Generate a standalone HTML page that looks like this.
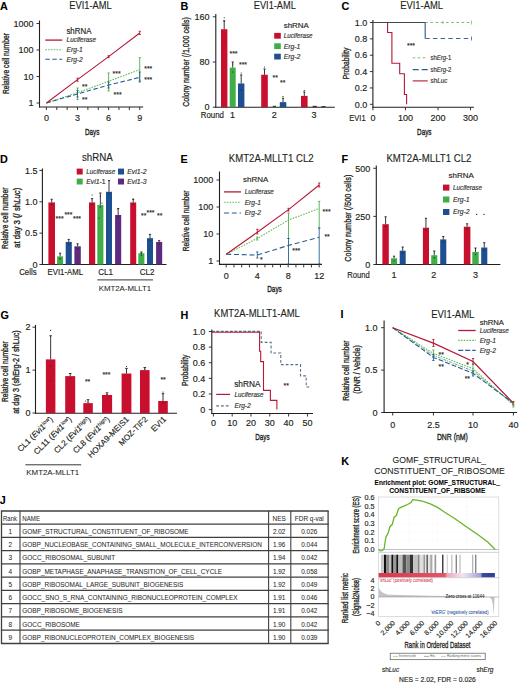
<!DOCTYPE html>
<html><head><meta charset="utf-8"><style>
html,body{margin:0;padding:0;background:#fff;width:520px;height:683px;overflow:hidden}
svg{display:block}
text{font-family:"Liberation Sans",sans-serif}
</style></head><body>
<svg width="520" height="683" viewBox="0 0 520 683">
<rect width="520" height="683" fill="#fff"/>
<text x="0.00" y="10.20" style="font-size:10.8px;fill:#000;font-weight:bold;stroke:#000;stroke-width:0.1px">A</text>
<text x="69.20" y="9.10" textLength="42.50" lengthAdjust="spacingAndGlyphs" style="font-size:10.4px;fill:#231f20;stroke:#231f20;stroke-width:0.12px">EVI1-AML</text>
<line x1="39.50" y1="20.50" x2="39.50" y2="107.55" stroke="#231f20" stroke-width="1.1"/>
<line x1="38.95" y1="107.00" x2="143.20" y2="107.00" stroke="#231f20" stroke-width="1.1"/>
<line x1="36.50" y1="23.50" x2="39.50" y2="23.50" stroke="#231f20" stroke-width="0.9"/>
<text x="33.60" y="26.74" text-anchor="end" style="font-size:9.0px;fill:#231f20;stroke:#231f20;stroke-width:0.16px">1000</text>
<line x1="36.50" y1="50.00" x2="39.50" y2="50.00" stroke="#231f20" stroke-width="0.9"/>
<text x="33.60" y="53.24" text-anchor="end" style="font-size:9.0px;fill:#231f20;stroke:#231f20;stroke-width:0.16px">100</text>
<line x1="36.50" y1="76.50" x2="39.50" y2="76.50" stroke="#231f20" stroke-width="0.9"/>
<text x="33.60" y="79.74" text-anchor="end" style="font-size:9.0px;fill:#231f20;stroke:#231f20;stroke-width:0.16px">10</text>
<line x1="36.50" y1="103.00" x2="39.50" y2="103.00" stroke="#231f20" stroke-width="0.9"/>
<text x="33.60" y="106.24" text-anchor="end" style="font-size:9.0px;fill:#231f20;stroke:#231f20;stroke-width:0.16px">1</text>
<line x1="46.40" y1="107.00" x2="46.40" y2="110.00" stroke="#231f20" stroke-width="0.9"/>
<line x1="56.77" y1="107.00" x2="56.77" y2="110.00" stroke="#231f20" stroke-width="0.9"/>
<line x1="67.14" y1="107.00" x2="67.14" y2="110.00" stroke="#231f20" stroke-width="0.9"/>
<line x1="77.51" y1="107.00" x2="77.51" y2="110.00" stroke="#231f20" stroke-width="0.9"/>
<line x1="87.88" y1="107.00" x2="87.88" y2="110.00" stroke="#231f20" stroke-width="0.9"/>
<line x1="98.25" y1="107.00" x2="98.25" y2="110.00" stroke="#231f20" stroke-width="0.9"/>
<line x1="108.62" y1="107.00" x2="108.62" y2="110.00" stroke="#231f20" stroke-width="0.9"/>
<line x1="118.99" y1="107.00" x2="118.99" y2="110.00" stroke="#231f20" stroke-width="0.9"/>
<line x1="129.36" y1="107.00" x2="129.36" y2="110.00" stroke="#231f20" stroke-width="0.9"/>
<line x1="139.73" y1="107.00" x2="139.73" y2="110.00" stroke="#231f20" stroke-width="0.9"/>
<text x="46.40" y="121.40" text-anchor="middle" style="font-size:9.0px;fill:#231f20;stroke:#231f20;stroke-width:0.16px">0</text>
<text x="77.51" y="121.40" text-anchor="middle" style="font-size:9.0px;fill:#231f20;stroke:#231f20;stroke-width:0.16px">3</text>
<text x="108.62" y="121.40" text-anchor="middle" style="font-size:9.0px;fill:#231f20;stroke:#231f20;stroke-width:0.16px">6</text>
<text x="139.73" y="121.40" text-anchor="middle" style="font-size:9.0px;fill:#231f20;stroke:#231f20;stroke-width:0.16px">9</text>
<text x="92.10" y="135.20" text-anchor="middle" textLength="14.40" lengthAdjust="spacingAndGlyphs" style="font-size:9.9px;fill:#231f20;stroke:#231f20;stroke-width:0.38px">Days</text>
<text transform="translate(8.50,63.60) rotate(-90)" text-anchor="middle" textLength="61.00" lengthAdjust="spacingAndGlyphs" style="font-size:9.9px;fill:#231f20;stroke:#231f20;stroke-width:0.32px">Relative cell number</text>
<polyline points="46.40,103.00 77.51,92.69 108.62,81.28 139.73,69.61" fill="none" stroke="#5fbf4f" stroke-width="1.1" stroke-dasharray="1.6 1.2" stroke-linejoin="miter"/>
<polyline points="46.40,103.00 77.51,93.93 108.62,85.09 139.73,77.34" fill="none" stroke="#2a5d8f" stroke-width="1.1" stroke-dasharray="4.5 2.5" stroke-linejoin="miter"/>
<polyline points="46.40,103.00 77.51,79.66 108.62,56.67 139.73,33.03" fill="none" stroke="#b51838" stroke-width="1.1" stroke-linejoin="miter"/>
<line x1="77.51" y1="78.20" x2="77.51" y2="81.20" stroke="#b51838" stroke-width="0.9"/>
<line x1="76.41" y1="78.20" x2="78.61" y2="78.20" stroke="#b51838" stroke-width="0.9"/>
<line x1="76.41" y1="81.20" x2="78.61" y2="81.20" stroke="#b51838" stroke-width="0.9"/>
<line x1="139.73" y1="31.30" x2="139.73" y2="34.60" stroke="#b51838" stroke-width="0.9"/>
<line x1="138.63" y1="31.30" x2="140.83" y2="31.30" stroke="#b51838" stroke-width="0.9"/>
<line x1="138.63" y1="34.60" x2="140.83" y2="34.60" stroke="#b51838" stroke-width="0.9"/>
<line x1="108.62" y1="55.70" x2="108.62" y2="57.70" stroke="#b51838" stroke-width="0.9"/>
<line x1="107.52" y1="55.70" x2="109.72" y2="55.70" stroke="#b51838" stroke-width="0.9"/>
<line x1="107.52" y1="57.70" x2="109.72" y2="57.70" stroke="#b51838" stroke-width="0.9"/>
<line x1="77.51" y1="88.00" x2="77.51" y2="99.60" stroke="#4caf50" stroke-width="0.9"/>
<line x1="76.41" y1="88.00" x2="78.61" y2="88.00" stroke="#4caf50" stroke-width="0.9"/>
<line x1="76.41" y1="99.60" x2="78.61" y2="99.60" stroke="#4caf50" stroke-width="0.9"/>
<line x1="108.62" y1="73.00" x2="108.62" y2="91.00" stroke="#4caf50" stroke-width="0.9"/>
<line x1="107.52" y1="73.00" x2="109.72" y2="73.00" stroke="#4caf50" stroke-width="0.9"/>
<line x1="107.52" y1="91.00" x2="109.72" y2="91.00" stroke="#4caf50" stroke-width="0.9"/>
<line x1="139.73" y1="57.60" x2="139.73" y2="81.00" stroke="#4caf50" stroke-width="0.9"/>
<line x1="138.63" y1="57.60" x2="140.83" y2="57.60" stroke="#4caf50" stroke-width="0.9"/>
<line x1="138.63" y1="81.00" x2="140.83" y2="81.00" stroke="#4caf50" stroke-width="0.9"/>
<line x1="77.51" y1="90.50" x2="77.51" y2="97.00" stroke="#2a5d8f" stroke-width="0.9"/>
<line x1="76.41" y1="90.50" x2="78.61" y2="90.50" stroke="#2a5d8f" stroke-width="0.9"/>
<line x1="76.41" y1="97.00" x2="78.61" y2="97.00" stroke="#2a5d8f" stroke-width="0.9"/>
<line x1="108.62" y1="82.00" x2="108.62" y2="88.00" stroke="#2a5d8f" stroke-width="0.9"/>
<line x1="107.52" y1="82.00" x2="109.72" y2="82.00" stroke="#2a5d8f" stroke-width="0.9"/>
<line x1="107.52" y1="88.00" x2="109.72" y2="88.00" stroke="#2a5d8f" stroke-width="0.9"/>
<line x1="139.73" y1="72.00" x2="139.73" y2="82.00" stroke="#2a5d8f" stroke-width="0.9"/>
<line x1="138.63" y1="72.00" x2="140.83" y2="72.00" stroke="#2a5d8f" stroke-width="0.9"/>
<line x1="138.63" y1="82.00" x2="140.83" y2="82.00" stroke="#2a5d8f" stroke-width="0.9"/>
<text x="82.00" y="88.90" style="font-size:6.8px;fill:#222;stroke:#222;stroke-width:0.12px">**</text>
<text x="82.00" y="102.30" style="font-size:6.8px;fill:#222;stroke:#222;stroke-width:0.12px">**</text>
<text x="112.60" y="76.20" style="font-size:6.8px;fill:#222;stroke:#222;stroke-width:0.12px">***</text>
<text x="113.60" y="96.50" style="font-size:6.8px;fill:#222;stroke:#222;stroke-width:0.12px">***</text>
<text x="144.30" y="71.10" style="font-size:6.8px;fill:#222;stroke:#222;stroke-width:0.12px">***</text>
<text x="144.30" y="82.00" style="font-size:6.8px;fill:#222;stroke:#222;stroke-width:0.12px">***</text>
<text x="66.40" y="34.20" textLength="25.00" lengthAdjust="spacingAndGlyphs" style="font-size:8.3px;fill:#231f20;stroke:#231f20;stroke-width:0.16px">shRNA</text>
<line x1="45.30" y1="40.10" x2="62.30" y2="40.10" stroke="#b51838" stroke-width="1.3"/>
<text x="66.60" y="42.40" textLength="29.50" lengthAdjust="spacingAndGlyphs" style="font-size:6.6px;fill:#333;font-style:italic;stroke:#333;stroke-width:0.16px">Luciferase</text>
<line x1="45.30" y1="49.70" x2="62.30" y2="49.70" stroke="#5fbf4f" stroke-width="1.1" stroke-dasharray="1.6 1.2"/>
<text x="66.60" y="52.00" style="font-size:6.6px;fill:#333;font-style:italic;stroke:#333;stroke-width:0.16px">Erg-1</text>
<line x1="45.30" y1="59.20" x2="62.30" y2="59.20" stroke="#2a5d8f" stroke-width="1.1" stroke-dasharray="4.5 2.5"/>
<text x="66.60" y="61.50" style="font-size:6.6px;fill:#333;font-style:italic;stroke:#333;stroke-width:0.16px">Erg-2</text>
<text x="180.50" y="10.40" style="font-size:10.8px;fill:#000;font-weight:bold;stroke:#000;stroke-width:0.1px">B</text>
<text x="253.80" y="9.10" textLength="42.00" lengthAdjust="spacingAndGlyphs" style="font-size:10.4px;fill:#231f20;stroke:#231f20;stroke-width:0.12px">EVI1-AML</text>
<line x1="215.80" y1="14.00" x2="215.80" y2="107.75" stroke="#231f20" stroke-width="1.1"/>
<line x1="215.25" y1="107.20" x2="334.80" y2="107.20" stroke="#231f20" stroke-width="1.1"/>
<line x1="212.80" y1="107.20" x2="215.80" y2="107.20" stroke="#231f20" stroke-width="0.9"/>
<text x="209.50" y="110.44" text-anchor="end" style="font-size:9.0px;fill:#231f20;stroke:#231f20;stroke-width:0.16px">0</text>
<line x1="212.80" y1="62.00" x2="215.80" y2="62.00" stroke="#231f20" stroke-width="0.9"/>
<text x="209.50" y="65.24" text-anchor="end" style="font-size:9.0px;fill:#231f20;stroke:#231f20;stroke-width:0.16px">80</text>
<line x1="212.80" y1="16.80" x2="215.80" y2="16.80" stroke="#231f20" stroke-width="0.9"/>
<text x="209.50" y="20.04" text-anchor="end" style="font-size:9.0px;fill:#231f20;stroke:#231f20;stroke-width:0.16px">160</text>
<text transform="translate(189.20,62.00) rotate(-90)" text-anchor="middle" textLength="89.50" lengthAdjust="spacingAndGlyphs" style="font-size:9.9px;fill:#231f20;stroke:#231f20;stroke-width:0.32px">Colony number (/1,000 cells)</text>
<text x="200.80" y="118.00" textLength="23.20" lengthAdjust="spacingAndGlyphs" style="font-size:8.8px;fill:#231f20;stroke:#231f20;stroke-width:0.16px">Round</text>
<text x="232.60" y="118.10" text-anchor="middle" style="font-size:9.0px;fill:#231f20;stroke:#231f20;stroke-width:0.16px">1</text>
<text x="274.20" y="118.10" text-anchor="middle" style="font-size:9.0px;fill:#231f20;stroke:#231f20;stroke-width:0.16px">2</text>
<text x="314.00" y="118.10" text-anchor="middle" style="font-size:9.0px;fill:#231f20;stroke:#231f20;stroke-width:0.16px">3</text>
<rect x="221.00" y="29.23" width="6.40" height="77.97" fill="#c8102e"/>
<line x1="224.20" y1="20.75" x2="224.20" y2="29.23" stroke="#231f20" stroke-width="0.9"/>
<line x1="223.10" y1="20.75" x2="225.30" y2="20.75" stroke="#231f20" stroke-width="0.9"/>
<rect x="229.70" y="67.65" width="6.00" height="39.55" fill="#3fae49"/>
<line x1="232.70" y1="62.00" x2="232.70" y2="67.65" stroke="#231f20" stroke-width="0.9"/>
<line x1="231.60" y1="62.00" x2="233.80" y2="62.00" stroke="#231f20" stroke-width="0.9"/>
<rect x="238.00" y="83.47" width="6.40" height="23.73" fill="#1d4f91"/>
<line x1="241.20" y1="75.00" x2="241.20" y2="83.47" stroke="#231f20" stroke-width="0.9"/>
<line x1="240.10" y1="75.00" x2="242.30" y2="75.00" stroke="#231f20" stroke-width="0.9"/>
<rect x="261.20" y="74.71" width="6.60" height="32.49" fill="#c8102e"/>
<line x1="264.50" y1="69.06" x2="264.50" y2="74.71" stroke="#231f20" stroke-width="0.9"/>
<line x1="263.40" y1="69.06" x2="265.60" y2="69.06" stroke="#231f20" stroke-width="0.9"/>
<rect x="272.80" y="105.73" width="3.20" height="1.47" fill="#2d5a2d"/>
<rect x="279.80" y="102.12" width="6.50" height="5.08" fill="#1d4f91"/>
<line x1="283.05" y1="98.16" x2="283.05" y2="102.12" stroke="#231f20" stroke-width="0.9"/>
<line x1="281.95" y1="98.16" x2="284.15" y2="98.16" stroke="#231f20" stroke-width="0.9"/>
<rect x="301.00" y="95.90" width="6.60" height="11.30" fill="#c8102e"/>
<line x1="304.30" y1="91.95" x2="304.30" y2="95.90" stroke="#231f20" stroke-width="0.9"/>
<line x1="303.20" y1="91.95" x2="305.40" y2="91.95" stroke="#231f20" stroke-width="0.9"/>
<rect x="312.60" y="105.84" width="4.20" height="1.36" fill="#333"/>
<rect x="321.50" y="106.07" width="4.00" height="1.13" fill="#333"/>
<circle cx="224.20" cy="17.80" r="0.6" fill="#231f20"/>
<circle cx="224.20" cy="21.50" r="0.6" fill="#231f20"/>
<circle cx="232.70" cy="64.00" r="0.6" fill="#231f20"/>
<circle cx="241.20" cy="73.00" r="0.6" fill="#231f20"/>
<circle cx="264.50" cy="67.00" r="0.6" fill="#231f20"/>
<circle cx="283.00" cy="96.50" r="0.6" fill="#231f20"/>
<circle cx="304.30" cy="90.50" r="0.6" fill="#231f20"/>
<circle cx="224.20" cy="40.00" r="0.6" fill="#231f20"/>
<circle cx="232.70" cy="72.00" r="0.6" fill="#231f20"/>
<circle cx="241.20" cy="90.00" r="0.6" fill="#231f20"/>
<text x="229.50" y="55.50" style="font-size:6.8px;fill:#222;stroke:#222;stroke-width:0.12px">***</text>
<text x="239.00" y="66.90" style="font-size:6.8px;fill:#222;stroke:#222;stroke-width:0.12px">***</text>
<text x="272.50" y="80.10" style="font-size:6.8px;fill:#222;stroke:#222;stroke-width:0.12px">**</text>
<text x="280.00" y="84.90" style="font-size:6.8px;fill:#222;stroke:#222;stroke-width:0.12px">**</text>
<text x="283.70" y="27.90" textLength="25.10" lengthAdjust="spacingAndGlyphs" style="font-size:8px;fill:#231f20;stroke:#231f20;stroke-width:0.16px">shRNA</text>
<rect x="274.20" y="32.90" width="6.60" height="5.80" fill="#c8102e"/>
<text x="283.70" y="38.20" textLength="28.90" lengthAdjust="spacingAndGlyphs" style="font-size:6.8px;fill:#333;font-style:italic;stroke:#333;stroke-width:0.16px">Luciferase</text>
<rect x="274.20" y="43.30" width="6.60" height="5.80" fill="#3fae49"/>
<text x="283.70" y="48.60" style="font-size:6.8px;fill:#333;font-style:italic;stroke:#333;stroke-width:0.16px">Erg-1</text>
<rect x="274.20" y="53.70" width="6.60" height="5.80" fill="#1d4f91"/>
<text x="283.70" y="59.00" style="font-size:6.8px;fill:#333;font-style:italic;stroke:#333;stroke-width:0.16px">Erg-2</text>
<text x="341.50" y="10.20" style="font-size:10.8px;fill:#000;font-weight:bold;stroke:#000;stroke-width:0.1px">C</text>
<text x="400.20" y="9.10" textLength="42.80" lengthAdjust="spacingAndGlyphs" style="font-size:10.4px;fill:#231f20;stroke:#231f20;stroke-width:0.12px">EVI1-AML</text>
<line x1="372.90" y1="20.00" x2="372.90" y2="107.85" stroke="#231f20" stroke-width="1.1"/>
<line x1="372.35" y1="107.30" x2="473.90" y2="107.30" stroke="#231f20" stroke-width="1.1"/>
<line x1="369.90" y1="104.30" x2="372.90" y2="104.30" stroke="#231f20" stroke-width="0.9"/>
<text x="367.30" y="107.54" text-anchor="end" style="font-size:9.0px;fill:#231f20;stroke:#231f20;stroke-width:0.16px">0.0</text>
<line x1="369.90" y1="87.94" x2="372.90" y2="87.94" stroke="#231f20" stroke-width="0.9"/>
<text x="367.30" y="91.18" text-anchor="end" style="font-size:9.0px;fill:#231f20;stroke:#231f20;stroke-width:0.16px">0.2</text>
<line x1="369.90" y1="71.58" x2="372.90" y2="71.58" stroke="#231f20" stroke-width="0.9"/>
<text x="367.30" y="74.82" text-anchor="end" style="font-size:9.0px;fill:#231f20;stroke:#231f20;stroke-width:0.16px">0.4</text>
<line x1="369.90" y1="55.22" x2="372.90" y2="55.22" stroke="#231f20" stroke-width="0.9"/>
<text x="367.30" y="58.46" text-anchor="end" style="font-size:9.0px;fill:#231f20;stroke:#231f20;stroke-width:0.16px">0.6</text>
<line x1="369.90" y1="38.86" x2="372.90" y2="38.86" stroke="#231f20" stroke-width="0.9"/>
<text x="367.30" y="42.10" text-anchor="end" style="font-size:9.0px;fill:#231f20;stroke:#231f20;stroke-width:0.16px">0.8</text>
<line x1="369.90" y1="22.50" x2="372.90" y2="22.50" stroke="#231f20" stroke-width="0.9"/>
<text x="367.30" y="25.74" text-anchor="end" style="font-size:9.0px;fill:#231f20;stroke:#231f20;stroke-width:0.16px">1.0</text>
<line x1="372.90" y1="107.30" x2="372.90" y2="110.30" stroke="#231f20" stroke-width="0.9"/>
<line x1="405.45" y1="107.30" x2="405.45" y2="110.30" stroke="#231f20" stroke-width="0.9"/>
<line x1="438.00" y1="107.30" x2="438.00" y2="110.30" stroke="#231f20" stroke-width="0.9"/>
<line x1="470.55" y1="107.30" x2="470.55" y2="110.30" stroke="#231f20" stroke-width="0.9"/>
<text x="372.90" y="121.20" text-anchor="middle" style="font-size:9.0px;fill:#231f20;stroke:#231f20;stroke-width:0.16px">0</text>
<text x="405.45" y="121.20" text-anchor="middle" style="font-size:9.0px;fill:#231f20;stroke:#231f20;stroke-width:0.16px">100</text>
<text x="438.00" y="121.20" text-anchor="middle" style="font-size:9.0px;fill:#231f20;stroke:#231f20;stroke-width:0.16px">200</text>
<text x="470.55" y="121.20" text-anchor="middle" style="font-size:9.0px;fill:#231f20;stroke:#231f20;stroke-width:0.16px">300</text>
<text x="349.30" y="121.20" textLength="16.30" lengthAdjust="spacingAndGlyphs" style="font-size:9px;fill:#231f20;stroke:#231f20;stroke-width:0.16px">EVI1</text>
<text x="424.30" y="135.10" text-anchor="middle" textLength="14.40" lengthAdjust="spacingAndGlyphs" style="font-size:9.9px;fill:#231f20;stroke:#231f20;stroke-width:0.38px">Days</text>
<text transform="translate(348.80,63.50) rotate(-90)" text-anchor="middle" textLength="31.70" lengthAdjust="spacingAndGlyphs" style="font-size:9.9px;fill:#231f20;stroke:#231f20;stroke-width:0.32px">Probability</text>
<line x1="425.20" y1="22.50" x2="472.00" y2="22.50" stroke="#78c06e" stroke-width="1" stroke-dasharray="2.6 2.6"/>
<line x1="425.20" y1="22.50" x2="425.20" y2="38.50" stroke="#42648f" stroke-width="1.2"/>
<line x1="425.20" y1="38.50" x2="472.00" y2="38.50" stroke="#42648f" stroke-width="1.2" stroke-dasharray="4.5 3.2"/>
<line x1="471.50" y1="20.50" x2="471.50" y2="24.50" stroke="#78c06e" stroke-width="0.8"/>
<line x1="471.50" y1="36.50" x2="471.50" y2="40.50" stroke="#42648f" stroke-width="0.8"/>
<polyline points="372.90,22.50 387.60,22.50 387.60,32.50 391.90,32.50 391.90,63.30 399.70,63.30 399.70,73.70 404.40,73.70 404.40,94.50 406.60,94.50 406.60,104.30" fill="none" stroke="#b51838" stroke-width="1.1" stroke-linejoin="miter"/>
<line x1="372.90" y1="22.50" x2="425.20" y2="22.50" stroke="#3c4a44" stroke-width="1.1"/>
<line x1="443.00" y1="20.80" x2="443.00" y2="24.20" stroke="#78c06e" stroke-width="0.8"/>
<text x="407.00" y="48.30" style="font-size:6.8px;fill:#222;stroke:#222;stroke-width:0.12px">***</text>
<line x1="412.70" y1="57.80" x2="427.70" y2="57.80" stroke="#78c06e" stroke-width="1" stroke-dasharray="2.5 2.5"/>
<line x1="412.70" y1="69.60" x2="427.70" y2="69.60" stroke="#2a5d8f" stroke-width="1.2" stroke-dasharray="6 3"/>
<line x1="412.70" y1="80.90" x2="427.70" y2="80.90" stroke="#b51838" stroke-width="1.1"/>
<text x="430.50" y="60.00" textLength="20.80" lengthAdjust="spacingAndGlyphs" style="font-size:6.6px;fill:#333;stroke:#333;stroke-width:0.16px">sh<tspan style="font-style:italic">Erg</tspan>-1</text>
<text x="430.50" y="71.80" textLength="20.80" lengthAdjust="spacingAndGlyphs" style="font-size:6.6px;fill:#333;stroke:#333;stroke-width:0.16px">sh<tspan style="font-style:italic">Erg</tspan>-2</text>
<text x="430.50" y="83.10" textLength="16.80" lengthAdjust="spacingAndGlyphs" style="font-size:6.6px;fill:#333;stroke:#333;stroke-width:0.16px">sh<tspan style="font-style:italic">Luc</tspan></text>
<text x="0.00" y="162.80" style="font-size:10.8px;fill:#000;font-weight:bold;stroke:#000;stroke-width:0.1px">D</text>
<text x="81.90" y="161.20" textLength="30.80" lengthAdjust="spacingAndGlyphs" style="font-size:10.8px;fill:#231f20;stroke:#231f20;stroke-width:0.12px">shRNA</text>
<line x1="42.40" y1="168.50" x2="42.40" y2="265.05" stroke="#231f20" stroke-width="1.1"/>
<line x1="41.85" y1="264.50" x2="166.50" y2="264.50" stroke="#231f20" stroke-width="1.1"/>
<line x1="39.40" y1="264.50" x2="42.40" y2="264.50" stroke="#231f20" stroke-width="0.9"/>
<text x="37.60" y="267.74" text-anchor="end" style="font-size:9.0px;fill:#231f20;stroke:#231f20;stroke-width:0.16px">0</text>
<line x1="39.40" y1="233.15" x2="42.40" y2="233.15" stroke="#231f20" stroke-width="0.9"/>
<text x="37.60" y="236.39" text-anchor="end" style="font-size:9.0px;fill:#231f20;stroke:#231f20;stroke-width:0.16px">0.5</text>
<line x1="39.40" y1="201.80" x2="42.40" y2="201.80" stroke="#231f20" stroke-width="0.9"/>
<text x="37.60" y="205.04" text-anchor="end" style="font-size:9.0px;fill:#231f20;stroke:#231f20;stroke-width:0.16px">1.0</text>
<line x1="39.40" y1="170.45" x2="42.40" y2="170.45" stroke="#231f20" stroke-width="0.9"/>
<text x="37.60" y="173.69" text-anchor="end" style="font-size:9.0px;fill:#231f20;stroke:#231f20;stroke-width:0.16px">1.5</text>
<text transform="translate(8.00,218.30) rotate(-90)" text-anchor="middle" textLength="61.40" lengthAdjust="spacingAndGlyphs" style="font-size:8.5px;fill:#231f20;stroke:#231f20;stroke-width:0.32px">Relative cell number</text>
<text transform="translate(19.60,217.80) rotate(-90)" text-anchor="middle" textLength="60.30" lengthAdjust="spacingAndGlyphs" style="font-size:8.5px;fill:#231f20;stroke:#231f20;stroke-width:0.32px">at day 3 (/ sh<tspan style="font-style:italic">Luc</tspan>)</text>
<rect x="48.40" y="202.43" width="6.60" height="62.07" fill="#c8102e"/>
<line x1="51.70" y1="199.29" x2="51.70" y2="202.43" stroke="#231f20" stroke-width="0.9"/>
<line x1="50.60" y1="199.29" x2="52.80" y2="199.29" stroke="#231f20" stroke-width="0.9"/>
<circle cx="51.70" cy="204.43" r="0.6" fill="#231f20"/>
<rect x="57.10" y="256.35" width="6.00" height="8.15" fill="#3fae49"/>
<line x1="60.10" y1="253.21" x2="60.10" y2="256.35" stroke="#231f20" stroke-width="0.9"/>
<line x1="59.00" y1="253.21" x2="61.20" y2="253.21" stroke="#231f20" stroke-width="0.9"/>
<circle cx="60.10" cy="258.35" r="0.6" fill="#231f20"/>
<rect x="65.70" y="241.93" width="6.10" height="22.57" fill="#1d4f91"/>
<line x1="68.75" y1="239.42" x2="68.75" y2="241.93" stroke="#231f20" stroke-width="0.9"/>
<line x1="67.65" y1="239.42" x2="69.85" y2="239.42" stroke="#231f20" stroke-width="0.9"/>
<circle cx="68.75" cy="243.93" r="0.6" fill="#231f20"/>
<rect x="74.40" y="246.32" width="6.40" height="18.18" fill="#5e2a7e"/>
<line x1="77.60" y1="243.81" x2="77.60" y2="246.32" stroke="#231f20" stroke-width="0.9"/>
<line x1="76.50" y1="243.81" x2="78.70" y2="243.81" stroke="#231f20" stroke-width="0.9"/>
<circle cx="77.60" cy="248.32" r="0.6" fill="#231f20"/>
<rect x="89.00" y="202.43" width="6.20" height="62.07" fill="#c8102e"/>
<line x1="92.10" y1="198.66" x2="92.10" y2="202.43" stroke="#231f20" stroke-width="0.9"/>
<line x1="91.00" y1="198.66" x2="93.20" y2="198.66" stroke="#231f20" stroke-width="0.9"/>
<circle cx="92.10" cy="204.43" r="0.6" fill="#231f20"/>
<rect x="97.30" y="204.94" width="6.10" height="59.56" fill="#3fae49"/>
<line x1="100.35" y1="193.02" x2="100.35" y2="204.94" stroke="#231f20" stroke-width="0.9"/>
<line x1="99.25" y1="193.02" x2="101.45" y2="193.02" stroke="#231f20" stroke-width="0.9"/>
<circle cx="100.35" cy="206.94" r="0.6" fill="#231f20"/>
<rect x="106.00" y="191.77" width="6.00" height="72.73" fill="#1d4f91"/>
<line x1="109.00" y1="180.48" x2="109.00" y2="191.77" stroke="#231f20" stroke-width="0.9"/>
<line x1="107.90" y1="180.48" x2="110.10" y2="180.48" stroke="#231f20" stroke-width="0.9"/>
<circle cx="109.00" cy="193.77" r="0.6" fill="#231f20"/>
<rect x="115.10" y="214.97" width="6.10" height="49.53" fill="#5e2a7e"/>
<line x1="118.15" y1="208.70" x2="118.15" y2="214.97" stroke="#231f20" stroke-width="0.9"/>
<line x1="117.05" y1="208.70" x2="119.25" y2="208.70" stroke="#231f20" stroke-width="0.9"/>
<circle cx="118.15" cy="216.97" r="0.6" fill="#231f20"/>
<rect x="130.20" y="202.43" width="6.00" height="62.07" fill="#c8102e"/>
<line x1="133.20" y1="199.29" x2="133.20" y2="202.43" stroke="#231f20" stroke-width="0.9"/>
<line x1="132.10" y1="199.29" x2="134.30" y2="199.29" stroke="#231f20" stroke-width="0.9"/>
<circle cx="133.20" cy="204.43" r="0.6" fill="#231f20"/>
<rect x="138.30" y="253.21" width="6.10" height="11.29" fill="#3fae49"/>
<line x1="141.35" y1="251.96" x2="141.35" y2="253.21" stroke="#231f20" stroke-width="0.9"/>
<line x1="140.25" y1="251.96" x2="142.45" y2="251.96" stroke="#231f20" stroke-width="0.9"/>
<circle cx="141.35" cy="255.21" r="0.6" fill="#231f20"/>
<rect x="147.00" y="238.17" width="6.00" height="26.33" fill="#1d4f91"/>
<line x1="150.00" y1="234.40" x2="150.00" y2="238.17" stroke="#231f20" stroke-width="0.9"/>
<line x1="148.90" y1="234.40" x2="151.10" y2="234.40" stroke="#231f20" stroke-width="0.9"/>
<circle cx="150.00" cy="240.17" r="0.6" fill="#231f20"/>
<rect x="156.10" y="241.93" width="6.10" height="22.57" fill="#5e2a7e"/>
<line x1="159.15" y1="240.67" x2="159.15" y2="241.93" stroke="#231f20" stroke-width="0.9"/>
<line x1="158.05" y1="240.67" x2="160.25" y2="240.67" stroke="#231f20" stroke-width="0.9"/>
<circle cx="159.15" cy="243.93" r="0.6" fill="#231f20"/>
<circle cx="92.10" cy="195.00" r="0.6" fill="#231f20"/>
<circle cx="100.30" cy="196.00" r="0.6" fill="#231f20"/>
<circle cx="102.00" cy="203.00" r="0.6" fill="#231f20"/>
<circle cx="99.00" cy="218.00" r="0.6" fill="#231f20"/>
<circle cx="118.10" cy="208.50" r="0.6" fill="#231f20"/>
<circle cx="133.20" cy="199.00" r="0.6" fill="#231f20"/>
<circle cx="141.30" cy="253.50" r="0.6" fill="#231f20"/>
<circle cx="60.10" cy="259.00" r="0.6" fill="#231f20"/>
<text x="55.60" y="221.30" style="font-size:6.8px;fill:#222;stroke:#222;stroke-width:0.12px">***</text>
<text x="64.40" y="217.00" style="font-size:6.8px;fill:#222;stroke:#222;stroke-width:0.12px">***</text>
<text x="73.00" y="221.30" style="font-size:6.8px;fill:#222;stroke:#222;stroke-width:0.12px">***</text>
<text x="141.00" y="217.70" style="font-size:6.8px;fill:#222;stroke:#222;stroke-width:0.12px">**</text>
<text x="146.50" y="215.30" style="font-size:6.8px;fill:#222;stroke:#222;stroke-width:0.12px">***</text>
<text x="157.00" y="217.70" style="font-size:6.8px;fill:#222;stroke:#222;stroke-width:0.12px">**</text>
<rect x="76.70" y="168.60" width="6.00" height="5.90" fill="#c8102e"/>
<rect x="76.70" y="178.60" width="6.00" height="5.90" fill="#3fae49"/>
<rect x="118.00" y="168.60" width="6.00" height="5.90" fill="#1d4f91"/>
<rect x="118.00" y="178.60" width="6.00" height="5.90" fill="#5e2a7e"/>
<text x="86.30" y="174.10" textLength="28.90" lengthAdjust="spacingAndGlyphs" style="font-size:6.8px;fill:#333;font-style:italic;stroke:#333;stroke-width:0.16px">Luciferase</text>
<text x="86.30" y="184.10" style="font-size:6.8px;fill:#333;stroke:#333;stroke-width:0.16px"><tspan style="font-style:italic">Evi1</tspan>-1</text>
<text x="127.30" y="174.10" style="font-size:6.8px;fill:#333;stroke:#333;stroke-width:0.16px"><tspan style="font-style:italic">Evi1-2</tspan></text>
<text x="127.30" y="184.10" style="font-size:6.8px;fill:#333;stroke:#333;stroke-width:0.16px"><tspan style="font-style:italic">Evi1-3</tspan></text>
<text x="19.20" y="274.90" textLength="17.50" lengthAdjust="spacingAndGlyphs" style="font-size:8.6px;fill:#231f20;stroke:#231f20;stroke-width:0.16px">Cells</text>
<text x="47.60" y="274.90" textLength="35.40" lengthAdjust="spacingAndGlyphs" style="font-size:8.8px;fill:#231f20;stroke:#231f20;stroke-width:0.16px">EVI1-AML</text>
<text x="98.20" y="274.90" textLength="14.70" lengthAdjust="spacingAndGlyphs" style="font-size:8.8px;fill:#231f20;stroke:#231f20;stroke-width:0.16px">CL1</text>
<text x="139.70" y="274.90" textLength="14.70" lengthAdjust="spacingAndGlyphs" style="font-size:8.8px;fill:#231f20;stroke:#231f20;stroke-width:0.16px">CL2</text>
<line x1="97.30" y1="279.90" x2="153.00" y2="279.90" stroke="#231f20" stroke-width="0.9"/>
<text x="98.70" y="290.80" textLength="52.50" lengthAdjust="spacingAndGlyphs" style="font-size:8px;fill:#231f20;stroke:#231f20;stroke-width:0.05px">KMT2A-MLLT1</text>
<text x="180.50" y="163.00" style="font-size:10.8px;fill:#000;font-weight:bold;stroke:#000;stroke-width:0.1px">E</text>
<text x="228.80" y="161.80" textLength="84.90" lengthAdjust="spacingAndGlyphs" style="font-size:10.4px;fill:#231f20;stroke:#231f20;stroke-width:0.12px">KMT2A-MLLT1 CL2</text>
<line x1="219.50" y1="171.50" x2="219.50" y2="264.95" stroke="#231f20" stroke-width="1.1"/>
<line x1="218.95" y1="264.40" x2="322.00" y2="264.40" stroke="#231f20" stroke-width="1.1"/>
<line x1="216.50" y1="180.00" x2="219.50" y2="180.00" stroke="#231f20" stroke-width="0.9"/>
<text x="213.30" y="183.24" text-anchor="end" style="font-size:9.0px;fill:#231f20;stroke:#231f20;stroke-width:0.16px">1000</text>
<line x1="216.50" y1="207.00" x2="219.50" y2="207.00" stroke="#231f20" stroke-width="0.9"/>
<text x="213.30" y="210.24" text-anchor="end" style="font-size:9.0px;fill:#231f20;stroke:#231f20;stroke-width:0.16px">100</text>
<line x1="216.50" y1="234.00" x2="219.50" y2="234.00" stroke="#231f20" stroke-width="0.9"/>
<text x="213.30" y="237.24" text-anchor="end" style="font-size:9.0px;fill:#231f20;stroke:#231f20;stroke-width:0.16px">10</text>
<line x1="216.50" y1="261.00" x2="219.50" y2="261.00" stroke="#231f20" stroke-width="0.9"/>
<text x="213.30" y="264.24" text-anchor="end" style="font-size:9.0px;fill:#231f20;stroke:#231f20;stroke-width:0.16px">1</text>
<line x1="226.20" y1="264.40" x2="226.20" y2="267.40" stroke="#231f20" stroke-width="0.9"/>
<line x1="233.95" y1="264.40" x2="233.95" y2="267.40" stroke="#231f20" stroke-width="0.9"/>
<line x1="241.70" y1="264.40" x2="241.70" y2="267.40" stroke="#231f20" stroke-width="0.9"/>
<line x1="249.45" y1="264.40" x2="249.45" y2="267.40" stroke="#231f20" stroke-width="0.9"/>
<line x1="257.20" y1="264.40" x2="257.20" y2="267.40" stroke="#231f20" stroke-width="0.9"/>
<line x1="264.95" y1="264.40" x2="264.95" y2="267.40" stroke="#231f20" stroke-width="0.9"/>
<line x1="272.70" y1="264.40" x2="272.70" y2="267.40" stroke="#231f20" stroke-width="0.9"/>
<line x1="280.45" y1="264.40" x2="280.45" y2="267.40" stroke="#231f20" stroke-width="0.9"/>
<line x1="288.20" y1="264.40" x2="288.20" y2="267.40" stroke="#231f20" stroke-width="0.9"/>
<line x1="295.95" y1="264.40" x2="295.95" y2="267.40" stroke="#231f20" stroke-width="0.9"/>
<line x1="303.70" y1="264.40" x2="303.70" y2="267.40" stroke="#231f20" stroke-width="0.9"/>
<line x1="311.45" y1="264.40" x2="311.45" y2="267.40" stroke="#231f20" stroke-width="0.9"/>
<line x1="319.20" y1="264.40" x2="319.20" y2="267.40" stroke="#231f20" stroke-width="0.9"/>
<text x="226.20" y="278.80" text-anchor="middle" style="font-size:9.0px;fill:#231f20;stroke:#231f20;stroke-width:0.16px">0</text>
<text x="257.20" y="278.80" text-anchor="middle" style="font-size:9.0px;fill:#231f20;stroke:#231f20;stroke-width:0.16px">4</text>
<text x="288.20" y="278.80" text-anchor="middle" style="font-size:9.0px;fill:#231f20;stroke:#231f20;stroke-width:0.16px">8</text>
<text x="319.20" y="278.80" text-anchor="middle" style="font-size:9.0px;fill:#231f20;stroke:#231f20;stroke-width:0.16px">12</text>
<text x="274.50" y="292.20" text-anchor="middle" textLength="14.50" lengthAdjust="spacingAndGlyphs" style="font-size:9.9px;fill:#231f20;stroke:#231f20;stroke-width:0.38px">Days</text>
<text transform="translate(188.80,220.90) rotate(-90)" text-anchor="middle" textLength="60.80" lengthAdjust="spacingAndGlyphs" style="font-size:9.9px;fill:#231f20;stroke:#231f20;stroke-width:0.32px">Relative cell number</text>
<polyline points="226.20,254.20 257.30,238.50 288.50,220.00 319.20,208.50" fill="none" stroke="#5fbf4f" stroke-width="1.1" stroke-dasharray="1.6 1.2" stroke-linejoin="miter"/>
<polyline points="226.20,254.20 257.30,255.10 288.50,245.40 319.20,237.30" fill="none" stroke="#2a5d8f" stroke-width="1.1" stroke-dasharray="5 2.8" stroke-linejoin="miter"/>
<polyline points="226.20,254.20 257.30,232.30 288.50,209.60 319.20,185.00" fill="none" stroke="#b51838" stroke-width="1.1" stroke-linejoin="miter"/>
<line x1="257.30" y1="229.30" x2="257.30" y2="233.90" stroke="#b51838" stroke-width="0.9"/>
<line x1="256.20" y1="229.30" x2="258.40" y2="229.30" stroke="#b51838" stroke-width="0.9"/>
<line x1="256.20" y1="233.90" x2="258.40" y2="233.90" stroke="#b51838" stroke-width="0.9"/>
<line x1="288.50" y1="208.30" x2="288.50" y2="211.00" stroke="#b51838" stroke-width="0.9"/>
<line x1="287.40" y1="208.30" x2="289.60" y2="208.30" stroke="#b51838" stroke-width="0.9"/>
<line x1="287.40" y1="211.00" x2="289.60" y2="211.00" stroke="#b51838" stroke-width="0.9"/>
<line x1="319.20" y1="183.00" x2="319.20" y2="187.00" stroke="#b51838" stroke-width="0.9"/>
<line x1="318.10" y1="183.00" x2="320.30" y2="183.00" stroke="#b51838" stroke-width="0.9"/>
<line x1="318.10" y1="187.00" x2="320.30" y2="187.00" stroke="#b51838" stroke-width="0.9"/>
<line x1="288.50" y1="213.00" x2="288.50" y2="238.50" stroke="#4caf50" stroke-width="0.9"/>
<line x1="287.40" y1="213.00" x2="289.60" y2="213.00" stroke="#4caf50" stroke-width="0.9"/>
<line x1="287.40" y1="238.50" x2="289.60" y2="238.50" stroke="#4caf50" stroke-width="0.9"/>
<line x1="319.20" y1="201.40" x2="319.20" y2="228.00" stroke="#4caf50" stroke-width="0.9"/>
<line x1="318.10" y1="201.40" x2="320.30" y2="201.40" stroke="#4caf50" stroke-width="0.9"/>
<line x1="318.10" y1="228.00" x2="320.30" y2="228.00" stroke="#4caf50" stroke-width="0.9"/>
<line x1="257.30" y1="237.00" x2="257.30" y2="240.00" stroke="#4caf50" stroke-width="0.9"/>
<line x1="256.20" y1="237.00" x2="258.40" y2="237.00" stroke="#4caf50" stroke-width="0.9"/>
<line x1="256.20" y1="240.00" x2="258.40" y2="240.00" stroke="#4caf50" stroke-width="0.9"/>
<line x1="288.50" y1="238.50" x2="288.50" y2="264.00" stroke="#2a5d8f" stroke-width="0.9"/>
<line x1="287.40" y1="238.50" x2="289.60" y2="238.50" stroke="#2a5d8f" stroke-width="0.9"/>
<line x1="287.40" y1="264.00" x2="289.60" y2="264.00" stroke="#2a5d8f" stroke-width="0.9"/>
<line x1="319.20" y1="228.00" x2="319.20" y2="264.00" stroke="#2a5d8f" stroke-width="0.9"/>
<line x1="318.10" y1="228.00" x2="320.30" y2="228.00" stroke="#2a5d8f" stroke-width="0.9"/>
<line x1="318.10" y1="264.00" x2="320.30" y2="264.00" stroke="#2a5d8f" stroke-width="0.9"/>
<line x1="257.30" y1="251.90" x2="257.30" y2="258.00" stroke="#2a5d8f" stroke-width="0.9"/>
<line x1="256.20" y1="251.90" x2="258.40" y2="251.90" stroke="#2a5d8f" stroke-width="0.9"/>
<line x1="256.20" y1="258.00" x2="258.40" y2="258.00" stroke="#2a5d8f" stroke-width="0.9"/>
<text x="322.60" y="213.90" style="font-size:6.8px;fill:#222;stroke:#222;stroke-width:0.12px">***</text>
<text x="324.40" y="238.60" style="font-size:6.8px;fill:#222;stroke:#222;stroke-width:0.12px">**</text>
<text x="292.30" y="252.50" style="font-size:6.8px;fill:#222;stroke:#222;stroke-width:0.12px">***</text>
<text x="260.00" y="261.60" style="font-size:6.8px;fill:#222;stroke:#222;stroke-width:0.12px">*</text>
<text x="243.00" y="182.40" textLength="25.20" lengthAdjust="spacingAndGlyphs" style="font-size:8px;fill:#231f20;stroke:#231f20;stroke-width:0.16px">shRNA</text>
<line x1="224.00" y1="191.90" x2="241.00" y2="191.90" stroke="#b51838" stroke-width="1.3"/>
<text x="244.70" y="194.20" textLength="29.20" lengthAdjust="spacingAndGlyphs" style="font-size:6.6px;fill:#333;font-style:italic;stroke:#333;stroke-width:0.16px">Luciferase</text>
<line x1="224.00" y1="202.30" x2="241.00" y2="202.30" stroke="#5fbf4f" stroke-width="1.1" stroke-dasharray="1.6 1.2"/>
<text x="244.70" y="204.60" style="font-size:6.6px;fill:#333;font-style:italic;stroke:#333;stroke-width:0.16px">Erg-1</text>
<line x1="224.00" y1="213.00" x2="241.00" y2="213.00" stroke="#2a5d8f" stroke-width="1.1" stroke-dasharray="5 2.8"/>
<text x="244.70" y="215.30" style="font-size:6.6px;fill:#333;font-style:italic;stroke:#333;stroke-width:0.16px">Erg-2</text>
<text x="341.50" y="162.50" style="font-size:10.8px;fill:#000;font-weight:bold;stroke:#000;stroke-width:0.1px">F</text>
<text x="386.40" y="161.80" textLength="85.10" lengthAdjust="spacingAndGlyphs" style="font-size:10.4px;fill:#231f20;stroke:#231f20;stroke-width:0.12px">KMT2A-MLLT1 CL2</text>
<line x1="376.30" y1="165.50" x2="376.30" y2="265.05" stroke="#231f20" stroke-width="1.1"/>
<line x1="375.75" y1="264.50" x2="500.40" y2="264.50" stroke="#231f20" stroke-width="1.1"/>
<line x1="373.30" y1="264.50" x2="376.30" y2="264.50" stroke="#231f20" stroke-width="0.9"/>
<text x="370.20" y="267.74" text-anchor="end" style="font-size:9.0px;fill:#231f20;stroke:#231f20;stroke-width:0.16px">0</text>
<line x1="373.30" y1="216.40" x2="376.30" y2="216.40" stroke="#231f20" stroke-width="0.9"/>
<text x="370.20" y="219.64" text-anchor="end" style="font-size:9.0px;fill:#231f20;stroke:#231f20;stroke-width:0.16px">250</text>
<line x1="373.30" y1="168.30" x2="376.30" y2="168.30" stroke="#231f20" stroke-width="0.9"/>
<text x="370.20" y="171.54" text-anchor="end" style="font-size:9.0px;fill:#231f20;stroke:#231f20;stroke-width:0.16px">500</text>
<text transform="translate(350.50,218.20) rotate(-90)" text-anchor="middle" textLength="87.20" lengthAdjust="spacingAndGlyphs" style="font-size:9.9px;fill:#231f20;stroke:#231f20;stroke-width:0.32px">Colony number (/500 cells)</text>
<text x="347.30" y="278.30" textLength="22.50" lengthAdjust="spacingAndGlyphs" style="font-size:8.8px;fill:#231f20;stroke:#231f20;stroke-width:0.16px">Round</text>
<text x="394.00" y="278.40" text-anchor="middle" style="font-size:9.0px;fill:#231f20;stroke:#231f20;stroke-width:0.16px">1</text>
<text x="433.80" y="278.40" text-anchor="middle" style="font-size:9.0px;fill:#231f20;stroke:#231f20;stroke-width:0.16px">2</text>
<text x="475.40" y="278.40" text-anchor="middle" style="font-size:9.0px;fill:#231f20;stroke:#231f20;stroke-width:0.16px">3</text>
<rect x="382.40" y="224.20" width="6.40" height="40.30" fill="#c8102e"/>
<line x1="385.60" y1="216.80" x2="385.60" y2="224.20" stroke="#231f20" stroke-width="0.9"/>
<line x1="384.50" y1="216.80" x2="386.70" y2="216.80" stroke="#231f20" stroke-width="0.9"/>
<circle cx="385.60" cy="226.70" r="0.6" fill="#231f20"/>
<rect x="391.00" y="258.30" width="6.10" height="6.20" fill="#3fae49"/>
<line x1="394.05" y1="256.20" x2="394.05" y2="258.30" stroke="#231f20" stroke-width="0.9"/>
<line x1="392.95" y1="256.20" x2="395.15" y2="256.20" stroke="#231f20" stroke-width="0.9"/>
<circle cx="394.05" cy="260.80" r="0.6" fill="#231f20"/>
<rect x="399.70" y="250.70" width="6.00" height="13.80" fill="#1d4f91"/>
<line x1="402.70" y1="247.00" x2="402.70" y2="250.70" stroke="#231f20" stroke-width="0.9"/>
<line x1="401.60" y1="247.00" x2="403.80" y2="247.00" stroke="#231f20" stroke-width="0.9"/>
<circle cx="402.70" cy="253.20" r="0.6" fill="#231f20"/>
<rect x="422.90" y="227.70" width="6.10" height="36.80" fill="#c8102e"/>
<line x1="425.95" y1="218.30" x2="425.95" y2="227.70" stroke="#231f20" stroke-width="0.9"/>
<line x1="424.85" y1="218.30" x2="427.05" y2="218.30" stroke="#231f20" stroke-width="0.9"/>
<circle cx="425.95" cy="230.20" r="0.6" fill="#231f20"/>
<rect x="431.20" y="255.20" width="6.10" height="9.30" fill="#3fae49"/>
<line x1="434.25" y1="251.00" x2="434.25" y2="255.20" stroke="#231f20" stroke-width="0.9"/>
<line x1="433.15" y1="251.00" x2="435.35" y2="251.00" stroke="#231f20" stroke-width="0.9"/>
<circle cx="434.25" cy="257.70" r="0.6" fill="#231f20"/>
<rect x="440.20" y="239.40" width="6.10" height="25.10" fill="#1d4f91"/>
<line x1="443.25" y1="236.50" x2="443.25" y2="239.40" stroke="#231f20" stroke-width="0.9"/>
<line x1="442.15" y1="236.50" x2="444.35" y2="236.50" stroke="#231f20" stroke-width="0.9"/>
<circle cx="443.25" cy="241.90" r="0.6" fill="#231f20"/>
<rect x="463.80" y="226.70" width="6.60" height="37.80" fill="#c8102e"/>
<line x1="467.10" y1="223.80" x2="467.10" y2="226.70" stroke="#231f20" stroke-width="0.9"/>
<line x1="466.00" y1="223.80" x2="468.20" y2="223.80" stroke="#231f20" stroke-width="0.9"/>
<circle cx="467.10" cy="229.20" r="0.6" fill="#231f20"/>
<rect x="472.30" y="251.90" width="6.40" height="12.60" fill="#3fae49"/>
<line x1="475.50" y1="248.00" x2="475.50" y2="251.90" stroke="#231f20" stroke-width="0.9"/>
<line x1="474.40" y1="248.00" x2="476.60" y2="248.00" stroke="#231f20" stroke-width="0.9"/>
<circle cx="475.50" cy="254.40" r="0.6" fill="#231f20"/>
<rect x="481.20" y="247.50" width="6.10" height="17.00" fill="#1d4f91"/>
<line x1="484.25" y1="242.70" x2="484.25" y2="247.50" stroke="#231f20" stroke-width="0.9"/>
<line x1="483.15" y1="242.70" x2="485.35" y2="242.70" stroke="#231f20" stroke-width="0.9"/>
<circle cx="484.25" cy="250.00" r="0.6" fill="#231f20"/>
<text x="448.50" y="177.70" textLength="25.30" lengthAdjust="spacingAndGlyphs" style="font-size:8.1px;fill:#231f20;stroke:#231f20;stroke-width:0.16px">shRNA</text>
<rect x="443.00" y="184.60" width="6.40" height="6.00" fill="#c8102e"/>
<text x="453.00" y="190.00" textLength="29.00" lengthAdjust="spacingAndGlyphs" style="font-size:6.8px;fill:#333;font-style:italic;stroke:#333;stroke-width:0.16px">Luciferase</text>
<rect x="443.00" y="196.50" width="6.40" height="6.00" fill="#3fae49"/>
<text x="453.00" y="201.90" style="font-size:6.8px;fill:#333;font-style:italic;stroke:#333;stroke-width:0.16px">Erg-1</text>
<rect x="443.00" y="209.00" width="6.40" height="6.00" fill="#1d4f91"/>
<text x="453.00" y="214.40" style="font-size:6.8px;fill:#333;font-style:italic;stroke:#333;stroke-width:0.16px">Erg-2</text>
<circle cx="476.70" cy="214.40" r="0.65" fill="#231f20"/>
<circle cx="484.00" cy="214.40" r="0.65" fill="#231f20"/>
<text x="0.50" y="318.70" style="font-size:10.8px;fill:#000;font-weight:bold;stroke:#000;stroke-width:0.1px">G</text>
<line x1="35.50" y1="325.00" x2="35.50" y2="413.75" stroke="#231f20" stroke-width="1.1"/>
<line x1="34.95" y1="413.20" x2="177.00" y2="413.20" stroke="#231f20" stroke-width="1.1"/>
<line x1="32.50" y1="413.00" x2="35.50" y2="413.00" stroke="#231f20" stroke-width="0.9"/>
<text x="30.40" y="416.24" text-anchor="end" style="font-size:9.0px;fill:#231f20;stroke:#231f20;stroke-width:0.16px">0</text>
<line x1="32.50" y1="370.10" x2="35.50" y2="370.10" stroke="#231f20" stroke-width="0.9"/>
<text x="30.40" y="373.34" text-anchor="end" style="font-size:9.0px;fill:#231f20;stroke:#231f20;stroke-width:0.16px">1</text>
<line x1="32.50" y1="327.20" x2="35.50" y2="327.20" stroke="#231f20" stroke-width="0.9"/>
<text x="30.40" y="330.44" text-anchor="end" style="font-size:9.0px;fill:#231f20;stroke:#231f20;stroke-width:0.16px">2</text>
<text transform="translate(8.40,371.60) rotate(-90)" text-anchor="middle" textLength="60.80" lengthAdjust="spacingAndGlyphs" style="font-size:8.8px;fill:#231f20;stroke:#231f20;stroke-width:0.32px">Relative cell number</text>
<text transform="translate(19.40,372.00) rotate(-90)" text-anchor="middle" textLength="83.50" lengthAdjust="spacingAndGlyphs" style="font-size:8.8px;fill:#231f20;stroke:#231f20;stroke-width:0.32px">at day 3 (shErg-2 / shLuc)</text>
<rect x="45.90" y="359.38" width="9.50" height="53.82" fill="#c8102e"/>
<line x1="50.65" y1="335.78" x2="50.65" y2="359.38" stroke="#231f20" stroke-width="0.9"/>
<line x1="49.35" y1="335.78" x2="51.95" y2="335.78" stroke="#231f20" stroke-width="0.9"/>
<rect x="65.20" y="376.11" width="10.00" height="37.09" fill="#c8102e"/>
<line x1="70.20" y1="373.53" x2="70.20" y2="376.11" stroke="#231f20" stroke-width="0.9"/>
<line x1="68.90" y1="373.53" x2="71.50" y2="373.53" stroke="#231f20" stroke-width="0.9"/>
<rect x="83.30" y="403.13" width="9.50" height="10.07" fill="#c8102e"/>
<line x1="88.05" y1="399.70" x2="88.05" y2="403.13" stroke="#231f20" stroke-width="0.9"/>
<line x1="86.75" y1="399.70" x2="89.35" y2="399.70" stroke="#231f20" stroke-width="0.9"/>
<rect x="102.00" y="394.98" width="10.10" height="18.22" fill="#c8102e"/>
<line x1="107.05" y1="392.84" x2="107.05" y2="394.98" stroke="#231f20" stroke-width="0.9"/>
<line x1="105.75" y1="392.84" x2="108.35" y2="392.84" stroke="#231f20" stroke-width="0.9"/>
<rect x="121.60" y="373.53" width="9.80" height="39.67" fill="#c8102e"/>
<line x1="126.50" y1="368.38" x2="126.50" y2="373.53" stroke="#231f20" stroke-width="0.9"/>
<line x1="125.20" y1="368.38" x2="127.80" y2="368.38" stroke="#231f20" stroke-width="0.9"/>
<rect x="140.00" y="370.10" width="9.60" height="43.10" fill="#c8102e"/>
<line x1="144.80" y1="367.53" x2="144.80" y2="370.10" stroke="#231f20" stroke-width="0.9"/>
<line x1="143.50" y1="367.53" x2="146.10" y2="367.53" stroke="#231f20" stroke-width="0.9"/>
<rect x="158.20" y="400.99" width="9.60" height="12.21" fill="#c8102e"/>
<line x1="163.00" y1="393.69" x2="163.00" y2="400.99" stroke="#231f20" stroke-width="0.9"/>
<line x1="161.70" y1="393.69" x2="164.30" y2="393.69" stroke="#231f20" stroke-width="0.9"/>
<circle cx="50.60" cy="330.30" r="0.6" fill="#231f20"/>
<circle cx="50.60" cy="366.00" r="0.6" fill="#231f20"/>
<circle cx="50.60" cy="381.00" r="0.6" fill="#231f20"/>
<circle cx="70.20" cy="378.00" r="0.6" fill="#231f20"/>
<circle cx="88.00" cy="402.00" r="0.6" fill="#231f20"/>
<circle cx="85.50" cy="401.00" r="0.6" fill="#231f20"/>
<circle cx="107.00" cy="394.50" r="0.6" fill="#231f20"/>
<circle cx="126.50" cy="366.50" r="0.6" fill="#231f20"/>
<circle cx="144.80" cy="369.00" r="0.6" fill="#231f20"/>
<circle cx="163.00" cy="392.00" r="0.6" fill="#231f20"/>
<circle cx="163.00" cy="403.00" r="0.6" fill="#231f20"/>
<text x="87.60" y="383.70" text-anchor="middle" style="font-size:6.8px;fill:#222;stroke:#222;stroke-width:0.12px">**</text>
<text x="106.40" y="377.40" text-anchor="middle" style="font-size:6.8px;fill:#222;stroke:#222;stroke-width:0.12px">***</text>
<text x="163.10" y="382.30" text-anchor="middle" style="font-size:6.8px;fill:#222;stroke:#222;stroke-width:0.12px">**</text>
<text transform="translate(53.30,419.80) rotate(-45)" text-anchor="end" style="font-size:8.1px;fill:#231f20;stroke:#231f20;stroke-width:0.16px">CL1 (<tspan style="font-style:italic">Evi1</tspan><tspan dy="-2.6" style="font-size:5.2px">low</tspan><tspan dy="2.6">)</tspan></text>
<text transform="translate(72.20,419.80) rotate(-45)" text-anchor="end" style="font-size:8.1px;fill:#231f20;stroke:#231f20;stroke-width:0.16px">CL11 (<tspan style="font-style:italic">Evi1</tspan><tspan dy="-2.6" style="font-size:5.2px">low</tspan><tspan dy="2.6">)</tspan></text>
<text transform="translate(91.20,419.80) rotate(-45)" text-anchor="end" style="font-size:8.1px;fill:#231f20;stroke:#231f20;stroke-width:0.16px">CL2 (<tspan style="font-style:italic">Evi1</tspan><tspan dy="-2.6" style="font-size:5.2px">high</tspan><tspan dy="2.6">)</tspan></text>
<text transform="translate(110.20,419.80) rotate(-45)" text-anchor="end" style="font-size:8.1px;fill:#231f20;stroke:#231f20;stroke-width:0.16px">CL8 (<tspan style="font-style:italic">Evi1</tspan><tspan dy="-2.6" style="font-size:5.2px">high</tspan><tspan dy="2.6">)</tspan></text>
<text transform="translate(129.50,419.80) rotate(-45)" text-anchor="end" style="font-size:8.1px;fill:#231f20;stroke:#231f20;stroke-width:0.16px">HOXA9-MEIS1</text>
<text transform="translate(148.30,419.80) rotate(-45)" text-anchor="end" style="font-size:8.1px;fill:#231f20;stroke:#231f20;stroke-width:0.16px">MOZ-TIF2</text>
<text transform="translate(166.60,419.80) rotate(-45)" text-anchor="end" style="font-size:8.1px;fill:#231f20;stroke:#231f20;stroke-width:0.16px">EVI1</text>
<line x1="25.40" y1="464.80" x2="81.20" y2="464.80" stroke="#231f20" stroke-width="0.9"/>
<text x="26.30" y="475.40" textLength="52.90" lengthAdjust="spacingAndGlyphs" style="font-size:8px;fill:#231f20;stroke:#231f20;stroke-width:0.05px">KMT2A-MLLT1</text>
<text x="180.50" y="318.70" style="font-size:10.8px;fill:#000;font-weight:bold;stroke:#000;stroke-width:0.1px">H</text>
<text x="214.10" y="317.30" textLength="85.70" lengthAdjust="spacingAndGlyphs" style="font-size:10.4px;fill:#231f20;stroke:#231f20;stroke-width:0.12px">KMT2A-MLLT1-AML</text>
<line x1="211.80" y1="329.50" x2="211.80" y2="414.05" stroke="#231f20" stroke-width="1.1"/>
<line x1="211.25" y1="413.50" x2="313.00" y2="413.50" stroke="#231f20" stroke-width="1.1"/>
<line x1="208.80" y1="409.60" x2="211.80" y2="409.60" stroke="#231f20" stroke-width="0.9"/>
<text x="205.20" y="412.84" text-anchor="end" style="font-size:9.0px;fill:#231f20;stroke:#231f20;stroke-width:0.16px">0</text>
<line x1="208.80" y1="393.98" x2="211.80" y2="393.98" stroke="#231f20" stroke-width="0.9"/>
<text x="205.20" y="397.22" text-anchor="end" style="font-size:9.0px;fill:#231f20;stroke:#231f20;stroke-width:0.16px">0.2</text>
<line x1="208.80" y1="378.36" x2="211.80" y2="378.36" stroke="#231f20" stroke-width="0.9"/>
<text x="205.20" y="381.60" text-anchor="end" style="font-size:9.0px;fill:#231f20;stroke:#231f20;stroke-width:0.16px">0.4</text>
<line x1="208.80" y1="362.74" x2="211.80" y2="362.74" stroke="#231f20" stroke-width="0.9"/>
<text x="205.20" y="365.98" text-anchor="end" style="font-size:9.0px;fill:#231f20;stroke:#231f20;stroke-width:0.16px">0.6</text>
<line x1="208.80" y1="347.12" x2="211.80" y2="347.12" stroke="#231f20" stroke-width="0.9"/>
<text x="205.20" y="350.36" text-anchor="end" style="font-size:9.0px;fill:#231f20;stroke:#231f20;stroke-width:0.16px">0.8</text>
<line x1="208.80" y1="331.50" x2="211.80" y2="331.50" stroke="#231f20" stroke-width="0.9"/>
<text x="205.20" y="334.74" text-anchor="end" style="font-size:9.0px;fill:#231f20;stroke:#231f20;stroke-width:0.16px">1.0</text>
<line x1="213.40" y1="413.50" x2="213.40" y2="416.50" stroke="#231f20" stroke-width="0.9"/>
<line x1="232.20" y1="413.50" x2="232.20" y2="416.50" stroke="#231f20" stroke-width="0.9"/>
<line x1="251.00" y1="413.50" x2="251.00" y2="416.50" stroke="#231f20" stroke-width="0.9"/>
<line x1="269.80" y1="413.50" x2="269.80" y2="416.50" stroke="#231f20" stroke-width="0.9"/>
<line x1="288.60" y1="413.50" x2="288.60" y2="416.50" stroke="#231f20" stroke-width="0.9"/>
<line x1="307.40" y1="413.50" x2="307.40" y2="416.50" stroke="#231f20" stroke-width="0.9"/>
<text x="213.40" y="426.40" text-anchor="middle" style="font-size:9.0px;fill:#231f20;stroke:#231f20;stroke-width:0.16px">0</text>
<text x="232.20" y="426.40" text-anchor="middle" style="font-size:9.0px;fill:#231f20;stroke:#231f20;stroke-width:0.16px">10</text>
<text x="251.00" y="426.40" text-anchor="middle" style="font-size:9.0px;fill:#231f20;stroke:#231f20;stroke-width:0.16px">20</text>
<text x="269.80" y="426.40" text-anchor="middle" style="font-size:9.0px;fill:#231f20;stroke:#231f20;stroke-width:0.16px">30</text>
<text x="288.60" y="426.40" text-anchor="middle" style="font-size:9.0px;fill:#231f20;stroke:#231f20;stroke-width:0.16px">40</text>
<text x="307.40" y="426.40" text-anchor="middle" style="font-size:9.0px;fill:#231f20;stroke:#231f20;stroke-width:0.16px">50</text>
<text x="262.40" y="440.40" text-anchor="middle" textLength="14.30" lengthAdjust="spacingAndGlyphs" style="font-size:9.9px;fill:#231f20;stroke:#231f20;stroke-width:0.38px">Days</text>
<text transform="translate(188.00,370.30) rotate(-90)" text-anchor="middle" textLength="31.60" lengthAdjust="spacingAndGlyphs" style="font-size:9.9px;fill:#231f20;stroke:#231f20;stroke-width:0.32px">Probability</text>
<polyline points="211.80,332.20 259.60,332.20 259.60,351.20 260.70,351.20 260.70,361.60 263.50,361.60 263.50,390.40 270.40,390.40 270.40,400.40 276.90,400.40 276.90,409.60" fill="none" stroke="#b51838" stroke-width="1.1" stroke-linejoin="miter"/>
<line x1="211.80" y1="331.30" x2="261.20" y2="331.30" stroke="#3d4450" stroke-width="1" stroke-dasharray="3 1.5"/>
<polyline points="261.20,331.50 261.20,342.40 271.10,342.40 271.10,353.00 280.80,353.00 280.80,364.60 300.50,364.60 300.50,375.90 306.20,375.90 306.20,387.00 310.90,387.00" fill="none" stroke="#5a6f8c" stroke-width="1.1" stroke-dasharray="2.8 2" stroke-linejoin="miter"/>
<text x="234.20" y="387.10" textLength="26.30" lengthAdjust="spacingAndGlyphs" style="font-size:8.4px;fill:#231f20;stroke:#231f20;stroke-width:0.16px">shRNA</text>
<line x1="216.20" y1="394.40" x2="230.00" y2="394.40" stroke="#b51838" stroke-width="1.2"/>
<text x="234.60" y="396.70" textLength="28.90" lengthAdjust="spacingAndGlyphs" style="font-size:6.6px;fill:#333;font-style:italic;stroke:#333;stroke-width:0.16px">Luciferase</text>
<line x1="216.20" y1="405.90" x2="230.00" y2="405.90" stroke="#5a6f8c" stroke-width="1.1" stroke-dasharray="2.8 2"/>
<text x="234.60" y="408.20" style="font-size:6.6px;fill:#333;font-style:italic;stroke:#333;stroke-width:0.16px">Erg-2</text>
<text x="283.60" y="387.70" style="font-size:6.8px;fill:#222;stroke:#222;stroke-width:0.12px">**</text>
<text x="340.60" y="318.20" style="font-size:10.8px;fill:#000;font-weight:bold;stroke:#000;stroke-width:0.1px">I</text>
<text x="431.20" y="317.70" textLength="43.10" lengthAdjust="spacingAndGlyphs" style="font-size:10.4px;fill:#231f20;stroke:#231f20;stroke-width:0.12px">EVI1-AML</text>
<line x1="384.10" y1="320.40" x2="384.10" y2="413.05" stroke="#231f20" stroke-width="1.1"/>
<line x1="383.55" y1="412.50" x2="517.00" y2="412.50" stroke="#231f20" stroke-width="1.1"/>
<line x1="381.10" y1="412.50" x2="384.10" y2="412.50" stroke="#231f20" stroke-width="0.9"/>
<text x="377.60" y="415.74" text-anchor="end" style="font-size:9.0px;fill:#231f20;stroke:#231f20;stroke-width:0.16px">0</text>
<line x1="381.10" y1="370.10" x2="384.10" y2="370.10" stroke="#231f20" stroke-width="0.9"/>
<text x="377.60" y="373.34" text-anchor="end" style="font-size:9.0px;fill:#231f20;stroke:#231f20;stroke-width:0.16px">0.5</text>
<line x1="381.10" y1="327.70" x2="384.10" y2="327.70" stroke="#231f20" stroke-width="0.9"/>
<text x="377.60" y="330.94" text-anchor="end" style="font-size:9.0px;fill:#231f20;stroke:#231f20;stroke-width:0.16px">1.0</text>
<line x1="392.70" y1="412.50" x2="392.70" y2="415.50" stroke="#231f20" stroke-width="0.9"/>
<line x1="433.40" y1="412.50" x2="433.40" y2="415.50" stroke="#231f20" stroke-width="0.9"/>
<line x1="473.00" y1="412.50" x2="473.00" y2="415.50" stroke="#231f20" stroke-width="0.9"/>
<line x1="513.40" y1="412.50" x2="513.40" y2="415.50" stroke="#231f20" stroke-width="0.9"/>
<text x="392.70" y="428.30" text-anchor="middle" style="font-size:9.0px;fill:#231f20;stroke:#231f20;stroke-width:0.16px">0</text>
<text x="433.40" y="428.30" text-anchor="middle" style="font-size:9.0px;fill:#231f20;stroke:#231f20;stroke-width:0.16px">2.5</text>
<text x="473.00" y="428.30" text-anchor="middle" style="font-size:9.0px;fill:#231f20;stroke:#231f20;stroke-width:0.16px">10</text>
<text x="513.40" y="428.30" text-anchor="middle" style="font-size:9.0px;fill:#231f20;stroke:#231f20;stroke-width:0.16px">40</text>
<text x="452.40" y="440.40" text-anchor="middle" textLength="31.00" lengthAdjust="spacingAndGlyphs" style="font-size:9.9px;fill:#231f20;stroke:#231f20;stroke-width:0.38px">DNR (nM)</text>
<text transform="translate(349.00,370.70) rotate(-90)" text-anchor="middle" textLength="60.30" lengthAdjust="spacingAndGlyphs" style="font-size:8.7px;fill:#231f20;stroke:#231f20;stroke-width:0.32px">Relative cell number</text>
<text transform="translate(359.80,369.50) rotate(-90)" text-anchor="middle" textLength="48.60" lengthAdjust="spacingAndGlyphs" style="font-size:8.7px;fill:#231f20;stroke:#231f20;stroke-width:0.32px">(DNR / Vehicle)</text>
<polyline points="392.70,327.70 433.40,353.40 473.00,368.70 513.40,405.00" fill="none" stroke="#5fbf4f" stroke-width="1.1" stroke-dasharray="1.6 1.2" stroke-linejoin="miter"/>
<polyline points="392.70,327.70 433.40,357.40 473.00,373.30 513.40,403.20" fill="none" stroke="#2a5d8f" stroke-width="1.1" stroke-dasharray="5 2" stroke-linejoin="miter"/>
<polyline points="392.70,327.70 433.40,355.40 473.00,371.00 513.40,404.00" fill="none" stroke="#2a7a6f" stroke-width="0.7" stroke-dasharray="3 1 1 1" stroke-linejoin="miter"/>
<polyline points="392.70,327.70 433.40,343.10 473.00,361.50 513.40,403.20" fill="none" stroke="#b51838" stroke-width="1.2" stroke-linejoin="miter"/>
<line x1="433.40" y1="339.50" x2="433.40" y2="346.50" stroke="#b51838" stroke-width="0.9"/>
<line x1="432.30" y1="339.50" x2="434.50" y2="339.50" stroke="#b51838" stroke-width="0.9"/>
<line x1="432.30" y1="346.50" x2="434.50" y2="346.50" stroke="#b51838" stroke-width="0.9"/>
<line x1="473.00" y1="358.50" x2="473.00" y2="364.50" stroke="#b51838" stroke-width="0.9"/>
<line x1="471.90" y1="358.50" x2="474.10" y2="358.50" stroke="#b51838" stroke-width="0.9"/>
<line x1="471.90" y1="364.50" x2="474.10" y2="364.50" stroke="#b51838" stroke-width="0.9"/>
<line x1="513.40" y1="401.50" x2="513.40" y2="405.00" stroke="#b51838" stroke-width="0.9"/>
<line x1="512.30" y1="401.50" x2="514.50" y2="401.50" stroke="#b51838" stroke-width="0.9"/>
<line x1="512.30" y1="405.00" x2="514.50" y2="405.00" stroke="#b51838" stroke-width="0.9"/>
<line x1="433.40" y1="350.00" x2="433.40" y2="356.50" stroke="#4caf50" stroke-width="0.9"/>
<line x1="432.30" y1="350.00" x2="434.50" y2="350.00" stroke="#4caf50" stroke-width="0.9"/>
<line x1="432.30" y1="356.50" x2="434.50" y2="356.50" stroke="#4caf50" stroke-width="0.9"/>
<line x1="473.00" y1="363.00" x2="473.00" y2="374.00" stroke="#4caf50" stroke-width="0.9"/>
<line x1="471.90" y1="363.00" x2="474.10" y2="363.00" stroke="#4caf50" stroke-width="0.9"/>
<line x1="471.90" y1="374.00" x2="474.10" y2="374.00" stroke="#4caf50" stroke-width="0.9"/>
<line x1="513.40" y1="403.00" x2="513.40" y2="407.00" stroke="#4caf50" stroke-width="0.9"/>
<line x1="512.30" y1="403.00" x2="514.50" y2="403.00" stroke="#4caf50" stroke-width="0.9"/>
<line x1="512.30" y1="407.00" x2="514.50" y2="407.00" stroke="#4caf50" stroke-width="0.9"/>
<line x1="433.40" y1="354.50" x2="433.40" y2="360.50" stroke="#2a5d8f" stroke-width="0.9"/>
<line x1="432.30" y1="354.50" x2="434.50" y2="354.50" stroke="#2a5d8f" stroke-width="0.9"/>
<line x1="432.30" y1="360.50" x2="434.50" y2="360.50" stroke="#2a5d8f" stroke-width="0.9"/>
<line x1="473.00" y1="371.00" x2="473.00" y2="376.00" stroke="#2a5d8f" stroke-width="0.9"/>
<line x1="471.90" y1="371.00" x2="474.10" y2="371.00" stroke="#2a5d8f" stroke-width="0.9"/>
<line x1="471.90" y1="376.00" x2="474.10" y2="376.00" stroke="#2a5d8f" stroke-width="0.9"/>
<text x="438.50" y="356.90" style="font-size:6.8px;fill:#222;stroke:#222;stroke-width:0.12px">**</text>
<text x="438.50" y="369.00" style="font-size:6.8px;fill:#222;stroke:#222;stroke-width:0.12px">**</text>
<text x="466.30" y="366.90" style="font-size:6.8px;fill:#222;stroke:#222;stroke-width:0.12px">*</text>
<text x="464.70" y="380.60" style="font-size:6.8px;fill:#222;stroke:#222;stroke-width:0.12px">**</text>
<text x="479.70" y="324.80" textLength="24.30" lengthAdjust="spacingAndGlyphs" style="font-size:7.9px;fill:#231f20;stroke:#231f20;stroke-width:0.16px">shRNA</text>
<line x1="458.20" y1="330.50" x2="475.70" y2="330.50" stroke="#b51838" stroke-width="1.3"/>
<text x="479.70" y="332.80" textLength="29.10" lengthAdjust="spacingAndGlyphs" style="font-size:6.6px;fill:#333;font-style:italic;stroke:#333;stroke-width:0.16px">Luciferase</text>
<line x1="458.20" y1="340.40" x2="475.70" y2="340.40" stroke="#5fbf4f" stroke-width="1.1" stroke-dasharray="1.6 1.2"/>
<text x="479.70" y="342.70" style="font-size:6.6px;fill:#333;font-style:italic;stroke:#333;stroke-width:0.16px">Erg-1</text>
<line x1="458.20" y1="350.40" x2="475.70" y2="350.40" stroke="#2a5d8f" stroke-width="1.1" stroke-dasharray="5 2"/>
<text x="479.70" y="352.70" style="font-size:6.6px;fill:#333;font-style:italic;stroke:#333;stroke-width:0.16px">Erg-2</text>
<text x="-0.30" y="503.80" style="font-size:10.8px;fill:#000;font-weight:bold;stroke:#000;stroke-width:0.1px">J</text>
<line x1="0.90" y1="510.90" x2="328.70" y2="510.90" stroke="#404040" stroke-width="1.5"/>
<line x1="0.90" y1="524.15" x2="328.70" y2="524.15" stroke="#404040" stroke-width="1.15"/>
<line x1="0.90" y1="537.40" x2="328.70" y2="537.40" stroke="#404040" stroke-width="1.15"/>
<line x1="0.90" y1="550.65" x2="328.70" y2="550.65" stroke="#404040" stroke-width="1.15"/>
<line x1="0.90" y1="563.90" x2="328.70" y2="563.90" stroke="#404040" stroke-width="1.15"/>
<line x1="0.90" y1="577.15" x2="328.70" y2="577.15" stroke="#404040" stroke-width="1.15"/>
<line x1="0.90" y1="590.40" x2="328.70" y2="590.40" stroke="#404040" stroke-width="1.15"/>
<line x1="0.90" y1="603.65" x2="328.70" y2="603.65" stroke="#404040" stroke-width="1.15"/>
<line x1="0.90" y1="616.90" x2="328.70" y2="616.90" stroke="#404040" stroke-width="1.15"/>
<line x1="0.90" y1="630.15" x2="328.70" y2="630.15" stroke="#404040" stroke-width="1.15"/>
<line x1="0.90" y1="643.40" x2="328.70" y2="643.40" stroke="#404040" stroke-width="1.5"/>
<line x1="1.50" y1="510.90" x2="1.50" y2="643.40" stroke="#404040" stroke-width="1.3"/>
<line x1="20.00" y1="510.90" x2="20.00" y2="643.40" stroke="#404040" stroke-width="1.1"/>
<line x1="268.60" y1="510.90" x2="268.60" y2="643.40" stroke="#404040" stroke-width="1.1"/>
<line x1="290.80" y1="510.90" x2="290.80" y2="643.40" stroke="#404040" stroke-width="1.1"/>
<line x1="328.10" y1="510.90" x2="328.10" y2="643.40" stroke="#404040" stroke-width="1.3"/>
<text x="10.00" y="520.60" text-anchor="middle" textLength="13.80" lengthAdjust="spacingAndGlyphs" style="font-size:6.45px;fill:#2a2a2a;stroke:#2a2a2a;stroke-width:0.05px">Rank</text>
<text x="22.30" y="520.60" textLength="17.70" lengthAdjust="spacingAndGlyphs" style="font-size:6.45px;fill:#2a2a2a;stroke:#2a2a2a;stroke-width:0.05px">NAME</text>
<text x="279.20" y="520.60" text-anchor="middle" style="font-size:6.45px;fill:#2a2a2a;stroke:#2a2a2a;stroke-width:0.05px">NES</text>
<text x="309.30" y="520.60" text-anchor="middle" style="font-size:6.45px;fill:#2a2a2a;stroke:#2a2a2a;stroke-width:0.05px">FDR q-val</text>
<text x="10.40" y="533.85" text-anchor="middle" style="font-size:6.45px;fill:#2a2a2a;stroke:#2a2a2a;stroke-width:0.05px">1</text>
<text x="22.30" y="533.85" style="font-size:6.45px;fill:#2a2a2a;stroke:#2a2a2a;stroke-width:0.05px">GOMF_STRUCTURAL_CONSTITUENT_OF_RIBOSOME</text>
<text x="279.20" y="533.85" text-anchor="middle" style="font-size:6.45px;fill:#2a2a2a;stroke:#2a2a2a;stroke-width:0.05px">2.02</text>
<text x="309.30" y="533.85" text-anchor="middle" style="font-size:6.45px;fill:#2a2a2a;stroke:#2a2a2a;stroke-width:0.05px">0.026</text>
<text x="10.40" y="547.10" text-anchor="middle" style="font-size:6.45px;fill:#2a2a2a;stroke:#2a2a2a;stroke-width:0.05px">2</text>
<text x="22.30" y="547.10" style="font-size:6.45px;fill:#2a2a2a;stroke:#2a2a2a;stroke-width:0.05px">GOBP_NUCLEOBASE_CONTAINING_SMALL_MOLECULE_INTERCONVERSION</text>
<text x="279.20" y="547.10" text-anchor="middle" style="font-size:6.45px;fill:#2a2a2a;stroke:#2a2a2a;stroke-width:0.05px">1.96</text>
<text x="309.30" y="547.10" text-anchor="middle" style="font-size:6.45px;fill:#2a2a2a;stroke:#2a2a2a;stroke-width:0.05px">0.044</text>
<text x="10.40" y="560.35" text-anchor="middle" style="font-size:6.45px;fill:#2a2a2a;stroke:#2a2a2a;stroke-width:0.05px">3</text>
<text x="22.30" y="560.35" style="font-size:6.45px;fill:#2a2a2a;stroke:#2a2a2a;stroke-width:0.05px">GOCC_RIBOSOMAL_SUBUNIT</text>
<text x="279.20" y="560.35" text-anchor="middle" style="font-size:6.45px;fill:#2a2a2a;stroke:#2a2a2a;stroke-width:0.05px">1.94</text>
<text x="309.30" y="560.35" text-anchor="middle" style="font-size:6.45px;fill:#2a2a2a;stroke:#2a2a2a;stroke-width:0.05px">0.042</text>
<text x="10.40" y="573.60" text-anchor="middle" style="font-size:6.45px;fill:#2a2a2a;stroke:#2a2a2a;stroke-width:0.05px">4</text>
<text x="22.30" y="573.60" style="font-size:6.45px;fill:#2a2a2a;stroke:#2a2a2a;stroke-width:0.05px">GOBP_METAPHASE_ANAPHASE_TRANSITION_OF_CELL_CYCLE</text>
<text x="279.20" y="573.60" text-anchor="middle" style="font-size:6.45px;fill:#2a2a2a;stroke:#2a2a2a;stroke-width:0.05px">1.92</text>
<text x="309.30" y="573.60" text-anchor="middle" style="font-size:6.45px;fill:#2a2a2a;stroke:#2a2a2a;stroke-width:0.05px">0.058</text>
<text x="10.40" y="586.85" text-anchor="middle" style="font-size:6.45px;fill:#2a2a2a;stroke:#2a2a2a;stroke-width:0.05px">5</text>
<text x="22.30" y="586.85" style="font-size:6.45px;fill:#2a2a2a;stroke:#2a2a2a;stroke-width:0.05px">GOBP_RIBOSOMAL_LARGE_SUBUNIT_BIOGENESIS</text>
<text x="279.20" y="586.85" text-anchor="middle" style="font-size:6.45px;fill:#2a2a2a;stroke:#2a2a2a;stroke-width:0.05px">1.92</text>
<text x="309.30" y="586.85" text-anchor="middle" style="font-size:6.45px;fill:#2a2a2a;stroke:#2a2a2a;stroke-width:0.05px">0.049</text>
<text x="10.40" y="600.10" text-anchor="middle" style="font-size:6.45px;fill:#2a2a2a;stroke:#2a2a2a;stroke-width:0.05px">6</text>
<text x="22.30" y="600.10" style="font-size:6.45px;fill:#2a2a2a;stroke:#2a2a2a;stroke-width:0.05px">GOCC_SNO_S_RNA_CONTAINING_RIBONUCLEOPROTEIN_COMPLEX</text>
<text x="279.20" y="600.10" text-anchor="middle" style="font-size:6.45px;fill:#2a2a2a;stroke:#2a2a2a;stroke-width:0.05px">1.91</text>
<text x="309.30" y="600.10" text-anchor="middle" style="font-size:6.45px;fill:#2a2a2a;stroke:#2a2a2a;stroke-width:0.05px">0.046</text>
<text x="10.40" y="613.35" text-anchor="middle" style="font-size:6.45px;fill:#2a2a2a;stroke:#2a2a2a;stroke-width:0.05px">7</text>
<text x="22.30" y="613.35" style="font-size:6.45px;fill:#2a2a2a;stroke:#2a2a2a;stroke-width:0.05px">GOBP_RIBOSOME_BIOGENESIS</text>
<text x="279.20" y="613.35" text-anchor="middle" style="font-size:6.45px;fill:#2a2a2a;stroke:#2a2a2a;stroke-width:0.05px">1.91</text>
<text x="309.30" y="613.35" text-anchor="middle" style="font-size:6.45px;fill:#2a2a2a;stroke:#2a2a2a;stroke-width:0.05px">0.042</text>
<text x="10.40" y="626.60" text-anchor="middle" style="font-size:6.45px;fill:#2a2a2a;stroke:#2a2a2a;stroke-width:0.05px">8</text>
<text x="22.30" y="626.60" style="font-size:6.45px;fill:#2a2a2a;stroke:#2a2a2a;stroke-width:0.05px">GOCC_RIBOSOME</text>
<text x="279.20" y="626.60" text-anchor="middle" style="font-size:6.45px;fill:#2a2a2a;stroke:#2a2a2a;stroke-width:0.05px">1.90</text>
<text x="309.30" y="626.60" text-anchor="middle" style="font-size:6.45px;fill:#2a2a2a;stroke:#2a2a2a;stroke-width:0.05px">0.042</text>
<text x="10.40" y="639.85" text-anchor="middle" style="font-size:6.45px;fill:#2a2a2a;stroke:#2a2a2a;stroke-width:0.05px">9</text>
<text x="22.30" y="639.85" style="font-size:6.45px;fill:#2a2a2a;stroke:#2a2a2a;stroke-width:0.05px">GOBP_RIBONUCLEOPROTEIN_COMPLEX_BIOGENESIS</text>
<text x="279.20" y="639.85" text-anchor="middle" style="font-size:6.45px;fill:#2a2a2a;stroke:#2a2a2a;stroke-width:0.05px">1.90</text>
<text x="309.30" y="639.85" text-anchor="middle" style="font-size:6.45px;fill:#2a2a2a;stroke:#2a2a2a;stroke-width:0.05px">0.039</text>
<text x="341.30" y="465.40" style="font-size:10.8px;fill:#000;font-weight:bold;stroke:#000;stroke-width:0.1px">K</text>
<text x="392.60" y="463.10" textLength="93.40" lengthAdjust="spacingAndGlyphs" style="font-size:9.8px;fill:#231f20;stroke:#231f20;stroke-width:0.1px">GOMF_STRUCTURAL_</text>
<text x="374.20" y="473.80" textLength="130.60" lengthAdjust="spacingAndGlyphs" style="font-size:9.8px;fill:#231f20;stroke:#231f20;stroke-width:0.1px">CONSTITUENT_OF_RIBOSOME</text>
<text x="374.60" y="484.60" textLength="125.20" lengthAdjust="spacingAndGlyphs" style="font-size:6.7px;fill:#000;font-weight:bold;stroke:#000;stroke-width:0.05px">Enrichment plot: GOMF_STRUCTURAL_</text>
<text x="389.20" y="492.80" textLength="96.20" lengthAdjust="spacingAndGlyphs" style="font-size:6.7px;fill:#000;font-weight:bold;stroke:#000;stroke-width:0.05px">CONSTITUENT_OF_RIBSOME</text>
<rect x="378.5" y="497" width="120.30000000000001" height="55.299999999999955" fill="none" stroke="#d4d4d4" stroke-width="0.8"/>
<line x1="378.50" y1="540.57" x2="498.80" y2="540.57" stroke="#f2f2f2" stroke-width="0.5" stroke-dasharray="1 1"/>
<line x1="378.50" y1="531.94" x2="498.80" y2="531.94" stroke="#f2f2f2" stroke-width="0.5" stroke-dasharray="1 1"/>
<line x1="378.50" y1="523.31" x2="498.80" y2="523.31" stroke="#f2f2f2" stroke-width="0.5" stroke-dasharray="1 1"/>
<line x1="378.50" y1="514.68" x2="498.80" y2="514.68" stroke="#f2f2f2" stroke-width="0.5" stroke-dasharray="1 1"/>
<line x1="378.50" y1="506.05" x2="498.80" y2="506.05" stroke="#f2f2f2" stroke-width="0.5" stroke-dasharray="1 1"/>
<line x1="408.20" y1="497.00" x2="408.20" y2="552.30" stroke="#eeeeee" stroke-width="0.5" stroke-dasharray="1 1"/>
<line x1="437.40" y1="497.00" x2="437.40" y2="552.30" stroke="#eeeeee" stroke-width="0.5" stroke-dasharray="1 1"/>
<line x1="466.60" y1="497.00" x2="466.60" y2="552.30" stroke="#eeeeee" stroke-width="0.5" stroke-dasharray="1 1"/>
<line x1="378.50" y1="549.50" x2="498.80" y2="549.50" stroke="#b0b0b0" stroke-width="0.8"/>
<text x="374.40" y="551.79" text-anchor="end" style="font-size:7.2px;fill:#231f20;stroke:#231f20;stroke-width:0.16px">0.0</text>
<text x="374.40" y="543.16" text-anchor="end" style="font-size:7.2px;fill:#231f20;stroke:#231f20;stroke-width:0.16px">0.1</text>
<text x="374.40" y="534.53" text-anchor="end" style="font-size:7.2px;fill:#231f20;stroke:#231f20;stroke-width:0.16px">0.2</text>
<text x="374.40" y="525.90" text-anchor="end" style="font-size:7.2px;fill:#231f20;stroke:#231f20;stroke-width:0.16px">0.3</text>
<text x="374.40" y="517.27" text-anchor="end" style="font-size:7.2px;fill:#231f20;stroke:#231f20;stroke-width:0.16px">0.4</text>
<text x="374.40" y="508.64" text-anchor="end" style="font-size:7.2px;fill:#231f20;stroke:#231f20;stroke-width:0.16px">0.5</text>
<text x="374.40" y="500.01" text-anchor="end" style="font-size:7.2px;fill:#231f20;stroke:#231f20;stroke-width:0.16px">0.6</text>
<polyline points="378.60,549.50 380.50,550.80 382.20,550.70 384.10,548.80 385.80,537.50 388.20,532.70 389.90,526.70 392.30,524.30 394.20,517.00 396.20,515.80 398.60,508.60 401.00,507.40 403.80,506.20 407.50,504.50 411.00,502.60 412.70,499.70 417.00,500.20 423.00,501.40 430.30,503.80 437.50,507.40 444.70,512.20 454.30,518.20 466.30,526.70 478.40,535.00 488.00,542.30 495.20,549.50" fill="none" stroke="#6ab42d" stroke-width="1.3" stroke-linejoin="miter"/>
<rect x="378.5" y="552.3" width="120.30000000000001" height="25.40000000000009" fill="none" stroke="#d4d4d4" stroke-width="0.8"/>
<rect x="380.90" y="554.70" width="3.10" height="18.30" fill="#c8c8c8"/>
<rect x="384.00" y="554.70" width="2.10" height="18.30" fill="#111"/>
<rect x="386.10" y="554.70" width="3.40" height="18.30" fill="#8a8a8a"/>
<rect x="389.50" y="554.70" width="1.90" height="18.30" fill="#c0c0c0"/>
<rect x="391.40" y="554.70" width="2.10" height="18.30" fill="#111"/>
<rect x="393.50" y="554.70" width="2.80" height="18.30" fill="#999"/>
<rect x="396.30" y="554.70" width="2.10" height="18.30" fill="#111"/>
<rect x="398.40" y="554.70" width="4.10" height="18.30" fill="#bdbdbd"/>
<rect x="402.50" y="554.70" width="3.70" height="18.30" fill="#555"/>
<rect x="406.20" y="554.70" width="3.60" height="18.30" fill="#8a8a8a"/>
<rect x="409.80" y="554.70" width="3.40" height="18.30" fill="#333"/>
<rect x="413.20" y="554.70" width="4.60" height="18.30" fill="#c4c4c4"/>
<rect x="417.80" y="554.70" width="1.90" height="18.30" fill="#888"/>
<rect x="419.70" y="554.70" width="3.70" height="18.30" fill="#dedede"/>
<rect x="423.40" y="554.70" width="1.80" height="18.30" fill="#999"/>
<rect x="425.20" y="554.70" width="1.30" height="18.30" fill="#e4e4e4"/>
<rect x="426.50" y="554.70" width="1.40" height="18.30" fill="#444"/>
<rect x="427.90" y="554.70" width="2.30" height="18.30" fill="#e4e4e4"/>
<rect x="430.20" y="554.70" width="2.20" height="18.30" fill="#aaa"/>
<rect x="434.50" y="554.70" width="1.70" height="18.30" fill="#999"/>
<rect x="442.00" y="554.70" width="1.50" height="18.30" fill="#444"/>
<rect x="446.80" y="554.70" width="0.80" height="18.30" fill="#bbb"/>
<rect x="451.50" y="554.70" width="0.80" height="18.30" fill="#999"/>
<rect x="455.60" y="554.70" width="1.40" height="18.30" fill="#888"/>
<rect x="459.60" y="554.70" width="0.80" height="18.30" fill="#999"/>
<rect x="472.40" y="554.70" width="0.80" height="18.30" fill="#888"/>
<rect x="475.00" y="554.70" width="1.40" height="18.30" fill="#888"/>
<defs><linearGradient id="rb" x1="0" x2="1" y1="0" y2="0"><stop offset="0" stop-color="#d8384c"/><stop offset="0.57" stop-color="#e35569"/><stop offset="0.59" stop-color="#e9a7c0"/><stop offset="0.72" stop-color="#f2e6f0"/><stop offset="0.80" stop-color="#c9c6e6"/><stop offset="0.88" stop-color="#9d9fd6"/><stop offset="0.89" stop-color="#3b4aa0"/><stop offset="1" stop-color="#2f3f96"/></linearGradient></defs>
<rect x="378.60" y="573.00" width="116.30" height="4.70" fill="url(#rb)"/>
<text x="379.50" y="582.20" textLength="53.50" lengthAdjust="spacingAndGlyphs" style="font-size:4.7px;fill:#d03a4c;stroke:#d03a4c;stroke-width:0.05px">'shLuc' (positively correlated)</text>
<rect x="378.5" y="577.7" width="120.30000000000001" height="38.69999999999993" fill="none" stroke="#d4d4d4" stroke-width="0.8"/>
<path d="M378.8,597 L378.8,587.5 C380,591 383,594 390,594.8 L430,595.8 L470,596.4 L489,596.8 L491.5,599 L492.8,604 L493.8,614.5 L494.6,597 Z" fill="#c4c4c4"/>
<line x1="378.50" y1="597.00" x2="498.80" y2="597.00" stroke="#8a8a8a" stroke-width="0.5"/>
<text x="445.50" y="597.60" textLength="39.00" lengthAdjust="spacingAndGlyphs" style="font-size:4.7px;fill:#222;stroke:#222;stroke-width:0.05px">Zero cross at 11644</text>
<text x="430.60" y="613.60" textLength="58.00" lengthAdjust="spacingAndGlyphs" style="font-size:4.7px;fill:#2c4f9e;stroke:#2c4f9e;stroke-width:0.05px">'shERG' (negatively correlated)</text>
<text x="374.40" y="583.39" text-anchor="end" style="font-size:7.2px;fill:#231f20;stroke:#231f20;stroke-width:0.16px">4</text>
<text x="374.40" y="591.39" text-anchor="end" style="font-size:7.2px;fill:#231f20;stroke:#231f20;stroke-width:0.16px">2</text>
<text x="374.40" y="599.49" text-anchor="end" style="font-size:7.2px;fill:#231f20;stroke:#231f20;stroke-width:0.16px">0</text>
<text x="374.40" y="607.99" text-anchor="end" style="font-size:7.2px;fill:#231f20;stroke:#231f20;stroke-width:0.16px">−2</text>
<text x="374.40" y="616.29" text-anchor="end" style="font-size:7.2px;fill:#231f20;stroke:#231f20;stroke-width:0.16px">−4</text>
<text transform="translate(358.60,524.80) rotate(-90)" text-anchor="middle" textLength="57.40" lengthAdjust="spacingAndGlyphs" style="font-size:8.2px;fill:#231f20;stroke:#231f20;stroke-width:0.32px">Enrichment score (ES)</text>
<text transform="translate(347.60,598.10) rotate(-90)" text-anchor="middle" textLength="50.20" lengthAdjust="spacingAndGlyphs" style="font-size:8.2px;fill:#231f20;stroke:#231f20;stroke-width:0.32px">Ranked list metric</text>
<text transform="translate(358.60,597.00) rotate(-90)" text-anchor="middle" textLength="38.00" lengthAdjust="spacingAndGlyphs" style="font-size:8.2px;fill:#231f20;stroke:#231f20;stroke-width:0.32px">(Signal2Noise)</text>
<text transform="translate(380.90,623.60) rotate(-45)" text-anchor="end" style="font-size:6.9px;fill:#231f20;stroke:#231f20;stroke-width:0.16px">0</text>
<text transform="translate(395.50,623.60) rotate(-45)" text-anchor="end" style="font-size:6.9px;fill:#231f20;stroke:#231f20;stroke-width:0.16px">2,000</text>
<text transform="translate(410.10,623.60) rotate(-45)" text-anchor="end" style="font-size:6.9px;fill:#231f20;stroke:#231f20;stroke-width:0.16px">4,000</text>
<text transform="translate(424.70,623.60) rotate(-45)" text-anchor="end" style="font-size:6.9px;fill:#231f20;stroke:#231f20;stroke-width:0.16px">6,000</text>
<text transform="translate(439.30,623.60) rotate(-45)" text-anchor="end" style="font-size:6.9px;fill:#231f20;stroke:#231f20;stroke-width:0.16px">8,000</text>
<text transform="translate(453.90,623.60) rotate(-45)" text-anchor="end" style="font-size:6.9px;fill:#231f20;stroke:#231f20;stroke-width:0.16px">10,000</text>
<text transform="translate(468.50,623.60) rotate(-45)" text-anchor="end" style="font-size:6.9px;fill:#231f20;stroke:#231f20;stroke-width:0.16px">12,000</text>
<text transform="translate(483.10,623.60) rotate(-45)" text-anchor="end" style="font-size:6.9px;fill:#231f20;stroke:#231f20;stroke-width:0.16px">14,000</text>
<text transform="translate(497.70,623.60) rotate(-45)" text-anchor="end" style="font-size:6.9px;fill:#231f20;stroke:#231f20;stroke-width:0.16px">16,000</text>
<text x="437.50" y="648.30" text-anchor="middle" textLength="66.00" lengthAdjust="spacingAndGlyphs" style="font-size:9.6px;fill:#231f20;stroke:#231f20;stroke-width:0.32px">Rank in Ordered Dataset</text>
<rect x="390.2" y="653.2" width="95" height="6.5" fill="#fff" stroke="#555" stroke-width="0.7"/>
<line x1="393.00" y1="656.40" x2="398.00" y2="656.40" stroke="#6ab42d" stroke-width="0.5"/>
<text x="399.00" y="657.40" textLength="17.00" lengthAdjust="spacingAndGlyphs" style="font-size:2.6px;fill:#555">Enrichment profile</text>
<line x1="424.00" y1="656.40" x2="429.00" y2="656.40" stroke="#555" stroke-width="0.5"/>
<text x="430.00" y="657.40" textLength="5.00" lengthAdjust="spacingAndGlyphs" style="font-size:2.6px;fill:#555">Hits</text>
<line x1="441.00" y1="656.40" x2="446.00" y2="656.40" stroke="#999" stroke-width="0.5"/>
<text x="447.00" y="657.40" textLength="34.00" lengthAdjust="spacingAndGlyphs" style="font-size:2.6px;fill:#555">Ranking metric scores</text>
<text x="382.10" y="672.20" textLength="17.00" lengthAdjust="spacingAndGlyphs" style="font-size:7.6px;fill:#231f20;stroke:#231f20;stroke-width:0.16px">sh<tspan style="font-style:italic">Luc</tspan></text>
<text x="476.50" y="672.20" textLength="16.90" lengthAdjust="spacingAndGlyphs" style="font-size:7.6px;fill:#231f20;stroke:#231f20;stroke-width:0.16px">sh<tspan style="font-style:italic">Erg</tspan></text>
<text x="399.10" y="681.60" textLength="76.60" lengthAdjust="spacingAndGlyphs" style="font-size:7.0px;fill:#231f20;stroke:#231f20;stroke-width:0.16px">NES = 2.02, FDR = 0.026</text>
</svg>
</body></html>
